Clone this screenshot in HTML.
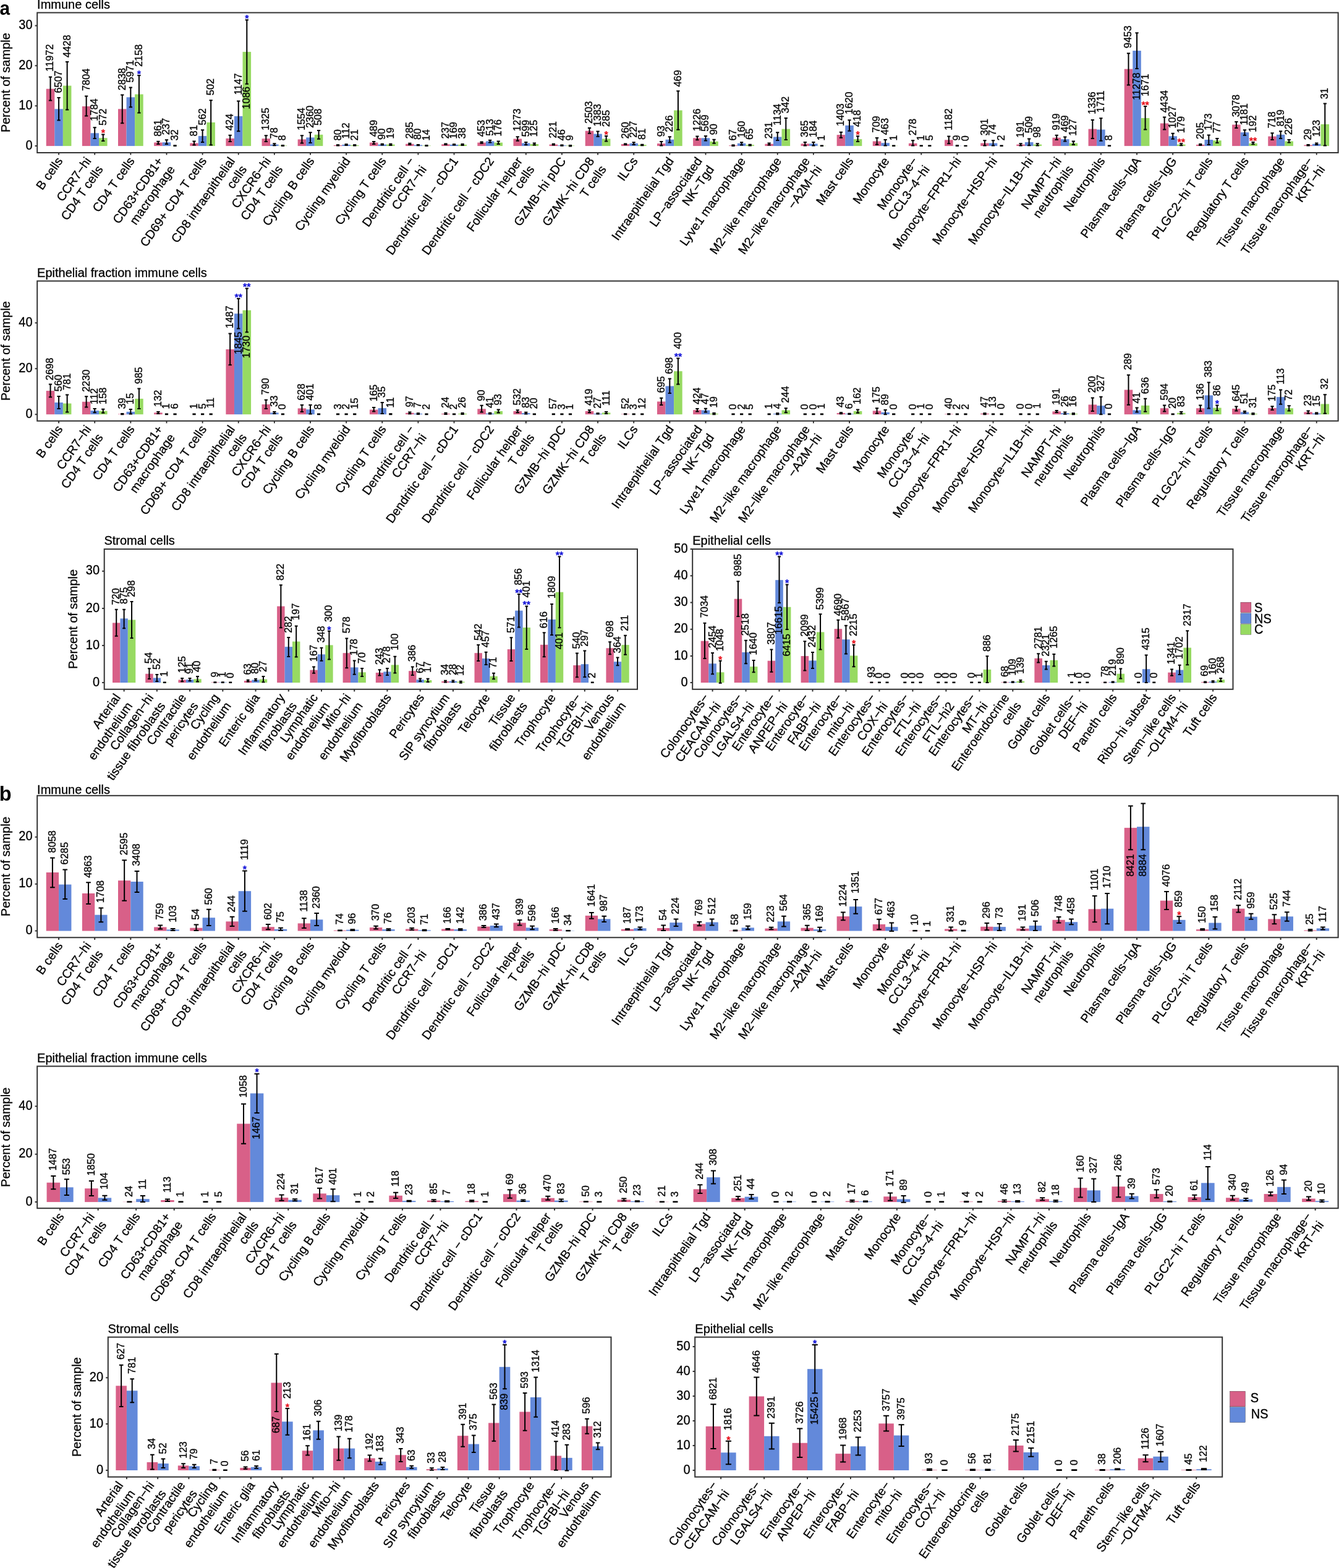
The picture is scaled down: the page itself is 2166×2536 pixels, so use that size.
<!DOCTYPE html>
<html><head><meta charset="utf-8"><title>Figure</title><style>html,body{margin:0;padding:0;background:#fff;}svg{display:block;}</style></head><body>
<svg width="2166" height="2536" viewBox="0 0 2166 2536" font-family="'Liberation Sans', Arial, Helvetica, sans-serif" fill="#000"><text transform="translate(-0.6 24.4) scale(0.93 1.0)" font-size="32" font-weight="bold">a</text>
<text x="-1.2" y="1295.2" font-size="32.5" font-weight="bold">b</text>
<text x="60.1" y="13.8" font-size="20" stroke="#000" stroke-width="0.3">Immune cells</text>
<g><rect x="74.73" y="143.7" width="13.56" height="92.4" fill="#D86088"/><rect x="88.3" y="176.3" width="13.56" height="59.8" fill="#6389DA"/><rect x="101.86" y="138.6" width="13.56" height="97.5" fill="#97DA62"/><rect x="132.87" y="172" width="13.56" height="64.1" fill="#D86088"/><rect x="146.43" y="215.3" width="13.56" height="20.8" fill="#6389DA"/><rect x="159.99" y="223.2" width="13.56" height="12.9" fill="#97DA62"/><rect x="191" y="176.3" width="13.56" height="59.8" fill="#D86088"/><rect x="204.56" y="157.3" width="13.56" height="78.8" fill="#6389DA"/><rect x="218.13" y="152.5" width="13.56" height="83.6" fill="#97DA62"/><rect x="249.13" y="230.5" width="13.56" height="5.6" fill="#D86088"/><rect x="262.7" y="230.2" width="13.56" height="5.9" fill="#6389DA"/><rect x="276.26" y="235.9" width="13.56" height="0.2" fill="#97DA62"/><rect x="307.26" y="231.52" width="13.56" height="4.58" fill="#D86088"/><rect x="320.83" y="219.93" width="13.56" height="16.17" fill="#6389DA"/><rect x="334.39" y="197.96" width="13.56" height="38.14" fill="#97DA62"/><rect x="365.4" y="223.9" width="13.56" height="12.2" fill="#D86088"/><rect x="378.96" y="187.9" width="13.56" height="48.2" fill="#6389DA"/><rect x="392.52" y="83.86" width="13.56" height="152.24" fill="#97DA62"/><rect x="423.53" y="224.2" width="13.56" height="11.9" fill="#D86088"/><rect x="437.09" y="233.66" width="13.56" height="2.44" fill="#6389DA"/><rect x="450.66" y="235.49" width="13.56" height="0.61" fill="#97DA62"/><rect x="481.66" y="225.42" width="13.56" height="10.68" fill="#D86088"/><rect x="495.23" y="222.37" width="13.56" height="13.73" fill="#6389DA"/><rect x="508.79" y="217.79" width="13.56" height="18.31" fill="#97DA62"/><rect x="539.79" y="234.88" width="13.56" height="1.22" fill="#D86088"/><rect x="553.36" y="233.96" width="13.56" height="2.14" fill="#6389DA"/><rect x="566.92" y="234.88" width="13.56" height="1.22" fill="#97DA62"/><rect x="597.93" y="230.61" width="13.56" height="5.49" fill="#D86088"/><rect x="611.49" y="233.66" width="13.56" height="2.44" fill="#6389DA"/><rect x="625.06" y="233.66" width="13.56" height="2.44" fill="#97DA62"/><rect x="656.06" y="232.74" width="13.56" height="3.36" fill="#D86088"/><rect x="669.62" y="234.57" width="13.56" height="1.53" fill="#6389DA"/><rect x="683.19" y="235.49" width="13.56" height="0.61" fill="#97DA62"/><rect x="714.19" y="233.35" width="13.56" height="2.75" fill="#D86088"/><rect x="727.76" y="233.96" width="13.56" height="2.14" fill="#6389DA"/><rect x="741.32" y="233.96" width="13.56" height="2.14" fill="#97DA62"/><rect x="772.32" y="230.61" width="13.56" height="5.49" fill="#D86088"/><rect x="785.89" y="228.47" width="13.56" height="7.63" fill="#6389DA"/><rect x="799.45" y="230.61" width="13.56" height="5.49" fill="#97DA62"/><rect x="830.46" y="224.51" width="13.56" height="11.59" fill="#D86088"/><rect x="844.02" y="231.52" width="13.56" height="4.58" fill="#6389DA"/><rect x="857.59" y="233.05" width="13.56" height="3.05" fill="#97DA62"/><rect x="888.59" y="233.66" width="13.56" height="2.44" fill="#D86088"/><rect x="902.15" y="235.18" width="13.56" height="0.92" fill="#6389DA"/><rect x="915.72" y="235.49" width="13.56" height="0.61" fill="#97DA62"/><rect x="946.72" y="211.69" width="13.56" height="24.41" fill="#D86088"/><rect x="960.29" y="216.57" width="13.56" height="19.53" fill="#6389DA"/><rect x="973.85" y="224.51" width="13.56" height="11.59" fill="#97DA62"/><rect x="1004.85" y="233.05" width="13.56" height="3.05" fill="#D86088"/><rect x="1018.42" y="231.83" width="13.56" height="4.27" fill="#6389DA"/><rect x="1031.98" y="234.27" width="13.56" height="1.83" fill="#97DA62"/><rect x="1062.99" y="232.13" width="13.56" height="3.97" fill="#D86088"/><rect x="1076.55" y="225.73" width="13.56" height="10.37" fill="#6389DA"/><rect x="1090.12" y="178.44" width="13.56" height="57.66" fill="#97DA62"/><rect x="1121.12" y="223.29" width="13.56" height="12.81" fill="#D86088"/><rect x="1134.68" y="223.29" width="13.56" height="12.81" fill="#6389DA"/><rect x="1148.25" y="228.78" width="13.56" height="7.32" fill="#97DA62"/><rect x="1179.25" y="235.18" width="13.56" height="0.92" fill="#D86088"/><rect x="1192.82" y="231.83" width="13.56" height="4.27" fill="#6389DA"/><rect x="1206.38" y="234.27" width="13.56" height="1.83" fill="#97DA62"/><rect x="1237.39" y="232.74" width="13.56" height="3.36" fill="#D86088"/><rect x="1250.95" y="221.46" width="13.56" height="14.64" fill="#6389DA"/><rect x="1264.51" y="208.64" width="13.56" height="27.46" fill="#97DA62"/><rect x="1295.52" y="232.44" width="13.56" height="3.66" fill="#D86088"/><rect x="1309.08" y="232.44" width="13.56" height="3.66" fill="#6389DA"/><rect x="1322.65" y="235.79" width="13.56" height="0.31" fill="#97DA62"/><rect x="1353.65" y="218.1" width="13.56" height="18" fill="#D86088"/><rect x="1367.21" y="202.85" width="13.56" height="33.25" fill="#6389DA"/><rect x="1380.78" y="225.12" width="13.56" height="10.98" fill="#97DA62"/><rect x="1411.78" y="228.47" width="13.56" height="7.63" fill="#D86088"/><rect x="1425.35" y="231.22" width="13.56" height="4.88" fill="#6389DA"/><rect x="1438.91" y="235.79" width="13.56" height="0.31" fill="#97DA62"/><rect x="1469.92" y="231.83" width="13.56" height="4.27" fill="#D86088"/><rect x="1528.05" y="226.34" width="13.56" height="9.76" fill="#D86088"/><rect x="1541.61" y="235.79" width="13.56" height="0.31" fill="#6389DA"/><rect x="1586.18" y="231.52" width="13.56" height="4.58" fill="#D86088"/><rect x="1599.74" y="231.52" width="13.56" height="4.58" fill="#6389DA"/><rect x="1644.31" y="233.66" width="13.56" height="2.44" fill="#D86088"/><rect x="1657.88" y="230" width="13.56" height="6.1" fill="#6389DA"/><rect x="1671.44" y="233.66" width="13.56" height="2.44" fill="#97DA62"/><rect x="1702.45" y="222.68" width="13.56" height="13.42" fill="#D86088"/><rect x="1716.01" y="225.12" width="13.56" height="10.98" fill="#6389DA"/><rect x="1729.57" y="231.52" width="13.56" height="4.58" fill="#97DA62"/><rect x="1760.58" y="208.64" width="13.56" height="27.46" fill="#D86088"/><rect x="1774.14" y="209.56" width="13.56" height="26.54" fill="#6389DA"/><rect x="1818.71" y="111.63" width="13.56" height="124.47" fill="#D86088"/><rect x="1832.28" y="82.03" width="13.56" height="154.07" fill="#6389DA"/><rect x="1845.84" y="190.95" width="13.56" height="45.15" fill="#97DA62"/><rect x="1876.84" y="199.49" width="13.56" height="36.61" fill="#D86088"/><rect x="1890.41" y="220.24" width="13.56" height="15.86" fill="#6389DA"/><rect x="1903.97" y="233.66" width="13.56" height="2.44" fill="#97DA62"/><rect x="1934.98" y="233.96" width="13.56" height="2.14" fill="#D86088"/><rect x="1948.54" y="226.03" width="13.56" height="10.07" fill="#6389DA"/><rect x="1962.1" y="227.25" width="13.56" height="8.85" fill="#97DA62"/><rect x="1993.11" y="201.63" width="13.56" height="34.47" fill="#D86088"/><rect x="2006.67" y="214.13" width="13.56" height="21.97" fill="#6389DA"/><rect x="2020.24" y="231.83" width="13.56" height="4.27" fill="#97DA62"/><rect x="2051.24" y="220.54" width="13.56" height="15.56" fill="#D86088"/><rect x="2064.81" y="217.79" width="13.56" height="18.31" fill="#6389DA"/><rect x="2078.37" y="228.47" width="13.56" height="7.63" fill="#97DA62"/><rect x="2109.37" y="234.57" width="13.56" height="1.53" fill="#D86088"/><rect x="2122.94" y="232.74" width="13.56" height="3.36" fill="#6389DA"/><rect x="2136.5" y="201.02" width="13.56" height="35.08" fill="#97DA62"/></g>
<path d="M81.52 124.6V162.4M78.89 124.6H84.14M78.89 162.4H84.14M95.08 158V194.4M92.46 158H97.7M92.46 194.4H97.7M108.64 100V177.5M106.02 100H111.27M106.02 177.5H111.27M139.65 155.6V187.6M137.03 155.6H142.27M137.03 187.6H142.27M153.21 206.3V224M150.59 206.3H155.83M150.59 224H155.83M166.78 217.5V228M164.15 217.5H169.4M164.15 228H169.4M197.78 153.4V199.2M195.16 153.4H200.4M195.16 199.2H200.4M211.34 141.5V173.2M208.72 141.5H213.97M208.72 173.2H213.97M224.91 122V182.5M222.29 122H227.53M222.29 182.5H227.53M255.91 228.8V233M253.29 228.8H258.54M253.29 233H258.54M269.48 226.3V233M266.86 226.3H272.1M266.86 233H272.1M283.04 235.2V236.1M280.42 235.2H285.66M280.42 236.1H285.66M314.05 228.47V234.57M311.42 228.47H316.67M311.42 234.57H316.67M327.61 210.17V230M324.99 210.17H330.23M324.99 230H330.23M341.17 162.27V234.57M338.55 162.27H343.8M338.55 234.57H343.8M372.18 218.71V229.08M369.56 218.71H374.8M369.56 229.08H374.8M385.74 163.49V212.3M383.12 163.49H388.36M383.12 212.3H388.36M399.31 32.3V135.73M396.68 32.3H401.93M396.68 135.73H401.93M430.31 219.32V229.08M427.69 219.32H432.93M427.69 229.08H432.93M443.88 232.13V235.18M441.25 232.13H446.5M441.25 235.18H446.5M457.44 234.88V236.1M454.82 234.88H460.06M454.82 236.1H460.06M488.44 219.32V231.52M485.82 219.32H491.07M485.82 231.52H491.07M502.01 214.13V230.91M499.39 214.13H504.63M499.39 230.91H504.63M515.57 211.08V224.81M512.95 211.08H518.19M512.95 224.81H518.19M546.58 234.27V235.49M543.95 234.27H549.2M543.95 235.49H549.2M560.14 233.35V234.88M557.52 233.35H562.76M557.52 234.88H562.76M573.7 234.27V235.49M571.08 234.27H576.33M571.08 235.49H576.33M604.71 229.08V233.05M602.09 229.08H607.33M602.09 233.05H607.33M618.27 232.74V234.57M615.65 232.74H620.9M615.65 234.57H620.9M631.84 232.74V234.88M629.22 232.74H634.46M629.22 234.88H634.46M662.84 231.83V233.96M660.22 231.83H665.46M660.22 233.96H665.46M676.41 233.96V235.18M673.78 233.96H679.03M673.78 235.18H679.03M689.97 234.88V236.1M687.35 234.88H692.59M687.35 236.1H692.59M720.97 232.44V233.96M718.35 232.44H723.6M718.35 233.96H723.6M734.54 233.35V234.57M731.92 233.35H737.16M731.92 234.57H737.16M748.1 233.05V234.88M745.48 233.05H750.72M745.48 234.88H750.72M779.11 229.39V231.83M776.48 229.39H781.73M776.48 231.83H781.73M792.67 226.64V230.61M790.05 226.64H795.29M790.05 230.61H795.29M806.23 228.47V233.05M803.61 228.47H808.86M803.61 233.05H808.86M837.24 221.15V227.86M834.62 221.15H839.86M834.62 227.86H839.86M850.8 230V234.27M848.18 230H853.43M848.18 234.27H853.43M864.37 231.52V234.57M861.75 231.52H866.99M861.75 234.57H866.99M895.37 232.74V234.57M892.75 232.74H897.99M892.75 234.57H897.99M908.94 234.57V235.79M906.31 234.57H911.56M906.31 235.79H911.56M922.5 234.88V236.41M919.88 234.88H925.12M919.88 236.41H925.12M953.5 207.12V215.66M950.88 207.12H956.13M950.88 215.66H956.13M967.07 212.61V220.85M964.45 212.61H969.69M964.45 220.85H969.69M980.63 219.93V228.47M978.01 219.93H983.25M978.01 228.47H983.25M1011.64 232.44V233.96M1009.01 232.44H1014.26M1009.01 233.96H1014.26M1025.2 230.3V233.96M1022.58 230.3H1027.82M1022.58 233.96H1027.82M1038.77 233.66V235.18M1036.14 233.66H1041.39M1036.14 235.18H1041.39M1069.77 229.08V235.49M1067.15 229.08H1072.39M1067.15 235.49H1072.39M1083.33 221.15V230.61M1080.71 221.15H1085.96M1080.71 230.61H1085.96M1096.9 147.32V209.86M1094.28 147.32H1099.52M1094.28 209.86H1099.52M1127.9 220.54V226.34M1125.28 220.54H1130.52M1125.28 226.34H1130.52M1141.47 219.93V227.56M1138.84 219.93H1144.09M1138.84 227.56H1144.09M1155.03 225.73V231.83M1152.41 225.73H1157.65M1152.41 231.83H1157.65M1186.03 234.57V236.1M1183.41 234.57H1188.66M1183.41 236.1H1188.66M1199.6 230.3V234.57M1196.98 230.3H1202.22M1196.98 234.57H1202.22M1213.16 233.66V235.49M1210.54 233.66H1215.79M1210.54 235.49H1215.79M1244.17 231.52V234.57M1241.55 231.52H1246.79M1241.55 234.57H1246.79M1257.73 214.13V226.95M1255.11 214.13H1260.35M1255.11 226.95H1260.35M1271.3 190.95V226.03M1268.67 190.95H1273.92M1268.67 226.03H1273.92M1302.3 230V235.49M1299.68 230H1304.92M1299.68 235.49H1304.92M1315.86 230V235.49M1313.24 230H1318.49M1313.24 235.49H1318.49M1329.43 235.49V236.1M1326.81 235.49H1332.05M1326.81 236.1H1332.05M1360.43 213.83V222.68M1357.81 213.83H1363.05M1357.81 222.68H1363.05M1374 194.3V211.69M1371.37 194.3H1376.62M1371.37 211.69H1376.62M1387.56 220.24V229.08M1384.94 220.24H1390.18M1384.94 229.08H1390.18M1418.57 222.98V233.66M1415.94 222.98H1421.19M1415.94 233.66H1421.19M1432.13 226.03V235.49M1429.51 226.03H1434.75M1429.51 235.49H1434.75M1445.69 235.49V236.1M1443.07 235.49H1448.32M1443.07 236.1H1448.32M1476.7 227.25V235.49M1474.08 227.25H1479.32M1474.08 235.49H1479.32M1490.26 235.49V236.1M1487.64 235.49H1492.88M1487.64 236.1H1492.88M1503.83 235.49V236.1M1501.2 235.49H1506.45M1501.2 236.1H1506.45M1534.83 220.54V232.13M1532.21 220.54H1537.45M1532.21 232.13H1537.45M1548.39 235.18V236.1M1545.77 235.18H1551.02M1545.77 236.1H1551.02M1561.96 235.79V236.1M1559.34 235.79H1564.58M1559.34 236.1H1564.58M1592.96 227.25V235.49M1590.34 227.25H1595.58M1590.34 235.49H1595.58M1606.53 227.25V235.49M1603.9 227.25H1609.15M1603.9 235.49H1609.15M1620.09 235.49V236.1M1617.47 235.49H1622.71M1617.47 236.1H1622.71M1651.1 232.13V235.49M1648.47 232.13H1653.72M1648.47 235.49H1653.72M1664.66 224.51V235.18M1662.04 224.51H1667.28M1662.04 235.18H1667.28M1678.22 232.13V235.49M1675.6 232.13H1680.85M1675.6 235.49H1680.85M1709.23 218.71V226.03M1706.61 218.71H1711.85M1706.61 226.03H1711.85M1722.79 221.46V228.47M1720.17 221.46H1725.41M1720.17 228.47H1725.41M1736.36 228.47V233.96M1733.73 228.47H1738.98M1733.73 233.96H1738.98M1767.36 194V223.9M1764.74 194H1769.98M1764.74 223.9H1769.98M1780.92 191.25V227.86M1778.3 191.25H1783.55M1778.3 227.86H1783.55M1794.49 235.49V236.1M1791.87 235.49H1797.11M1791.87 236.1H1797.11M1825.49 86.3V137.56M1822.87 86.3H1828.12M1822.87 137.56H1828.12M1839.06 53.35V111.02M1836.44 53.35H1841.68M1836.44 111.02H1841.68M1852.62 172.03V209.56M1850 172.03H1855.24M1850 209.56H1855.24M1883.63 189.42V209.56M1881 189.42H1886.25M1881 209.56H1886.25M1897.19 215.66V224.81M1894.57 215.66H1899.81M1894.57 224.81H1899.81M1910.75 232.13V235.18M1908.13 232.13H1913.38M1908.13 235.18H1913.38M1941.76 233.05V234.88M1939.14 233.05H1944.38M1939.14 234.88H1944.38M1955.32 218.41V233.96M1952.7 218.41H1957.94M1952.7 233.96H1957.94M1968.89 223.9V230.91M1966.26 223.9H1971.51M1966.26 230.91H1971.51M1999.89 197.05V207.12M1997.27 197.05H2002.51M1997.27 207.12H2002.51M2013.46 210.17V218.71M2010.83 210.17H2016.08M2010.83 218.71H2016.08M2027.02 230V233.35M2024.4 230H2029.64M2024.4 233.35H2029.64M2058.02 215.35V226.03M2055.4 215.35H2060.65M2055.4 226.03H2060.65M2071.59 212.3V223.9M2068.97 212.3H2074.21M2068.97 223.9H2074.21M2085.15 226.03V230.61M2082.53 226.03H2087.77M2082.53 230.61H2087.77M2116.16 233.96V235.49M2113.53 233.96H2118.78M2113.53 235.49H2118.78M2129.72 231.52V233.96M2127.1 231.52H2132.34M2127.1 233.96H2132.34M2143.28 167.46V235.49M2140.66 167.46H2145.91M2140.66 235.49H2145.91" stroke="#000" stroke-width="2" fill="none"/>
<g font-size="16.4" stroke="#000" stroke-width="0.3"><text transform="translate(80.62 115.8) rotate(-90)" dy="0.355em">11972</text><text transform="translate(94.18 150.5) rotate(-90)" dy="0.355em">6507</text><text transform="translate(107.74 92.9) rotate(-90)" dy="0.355em">4428</text><text transform="translate(138.75 147.1) rotate(-90)" dy="0.355em">7804</text><text transform="translate(152.31 195.8) rotate(-90)" dy="0.355em">1784</text><text transform="translate(165.88 203) rotate(-90)" dy="0.355em">572</text><text transform="translate(196.88 146.3) rotate(-90)" dy="0.355em">2838</text><text transform="translate(210.44 133.5) rotate(-90)" dy="0.355em">5971</text><text transform="translate(224.01 108.1) rotate(-90)" dy="0.355em">2158</text><text transform="translate(255.01 220.8) rotate(-90)" dy="0.355em">861</text><text transform="translate(268.58 218.3) rotate(-90)" dy="0.355em">237</text><text transform="translate(282.14 227.6) rotate(-90)" dy="0.355em">32</text><text transform="translate(313.15 220.43) rotate(-90)" dy="0.355em">81</text><text transform="translate(326.71 202.43) rotate(-90)" dy="0.355em">562</text><text transform="translate(340.27 154.23) rotate(-90)" dy="0.355em">502</text><text transform="translate(371.28 211.28) rotate(-90)" dy="0.355em">424</text><text transform="translate(384.84 153.62) rotate(-90)" dy="0.355em">1147</text><text transform="translate(398.41 176.5) rotate(-90)" dy="0.355em">1086</text><text transform="translate(429.41 210.67) rotate(-90)" dy="0.355em">1325</text><text transform="translate(442.98 224.4) rotate(-90)" dy="0.355em">78</text><text transform="translate(456.54 227.45) rotate(-90)" dy="0.355em">8</text><text transform="translate(487.54 210.67) rotate(-90)" dy="0.355em">1554</text><text transform="translate(501.11 207.01) rotate(-90)" dy="0.355em">2360</text><text transform="translate(514.67 203.04) rotate(-90)" dy="0.355em">508</text><text transform="translate(545.68 227.45) rotate(-90)" dy="0.355em">80</text><text transform="translate(559.24 224.4) rotate(-90)" dy="0.355em">112</text><text transform="translate(572.8 227.45) rotate(-90)" dy="0.355em">21</text><text transform="translate(603.81 221.35) rotate(-90)" dy="0.355em">489</text><text transform="translate(617.37 225.92) rotate(-90)" dy="0.355em">90</text><text transform="translate(630.94 224.4) rotate(-90)" dy="0.355em">19</text><text transform="translate(661.94 224.4) rotate(-90)" dy="0.355em">285</text><text transform="translate(675.51 225.92) rotate(-90)" dy="0.355em">80</text><text transform="translate(689.07 227.45) rotate(-90)" dy="0.355em">14</text><text transform="translate(720.07 224.4) rotate(-90)" dy="0.355em">237</text><text transform="translate(733.64 224.4) rotate(-90)" dy="0.355em">169</text><text transform="translate(747.2 224.4) rotate(-90)" dy="0.355em">38</text><text transform="translate(778.21 221.35) rotate(-90)" dy="0.355em">453</text><text transform="translate(791.77 219.82) rotate(-90)" dy="0.355em">513</text><text transform="translate(805.33 220.43) rotate(-90)" dy="0.355em">176</text><text transform="translate(836.34 212.19) rotate(-90)" dy="0.355em">1273</text><text transform="translate(849.9 221.35) rotate(-90)" dy="0.355em">599</text><text transform="translate(863.47 221.35) rotate(-90)" dy="0.355em">125</text><text transform="translate(894.47 223.48) rotate(-90)" dy="0.355em">221</text><text transform="translate(908.04 227.45) rotate(-90)" dy="0.355em">46</text><text transform="translate(921.6 227.45) rotate(-90)" dy="0.355em">9</text><text transform="translate(952.6 199.99) rotate(-90)" dy="0.355em">2503</text><text transform="translate(966.17 204.57) rotate(-90)" dy="0.355em">1383</text><text transform="translate(979.73 205.18) rotate(-90)" dy="0.355em">285</text><text transform="translate(1010.74 224.4) rotate(-90)" dy="0.355em">260</text><text transform="translate(1024.3 222.87) rotate(-90)" dy="0.355em">227</text><text transform="translate(1037.87 225.92) rotate(-90)" dy="0.355em">81</text><text transform="translate(1068.87 221.35) rotate(-90)" dy="0.355em">93</text><text transform="translate(1082.43 213.72) rotate(-90)" dy="0.355em">226</text><text transform="translate(1096 140.5) rotate(-90)" dy="0.355em">469</text><text transform="translate(1127 212.19) rotate(-90)" dy="0.355em">1226</text><text transform="translate(1140.57 212.8) rotate(-90)" dy="0.355em">569</text><text transform="translate(1154.13 218.29) rotate(-90)" dy="0.355em">90</text><text transform="translate(1185.13 227.45) rotate(-90)" dy="0.355em">67</text><text transform="translate(1198.7 222.87) rotate(-90)" dy="0.355em">160</text><text transform="translate(1212.26 225.92) rotate(-90)" dy="0.355em">65</text><text transform="translate(1243.27 224.4) rotate(-90)" dy="0.355em">231</text><text transform="translate(1256.83 203.04) rotate(-90)" dy="0.355em">1134</text><text transform="translate(1270.4 183.21) rotate(-90)" dy="0.355em">342</text><text transform="translate(1301.4 221.96) rotate(-90)" dy="0.355em">365</text><text transform="translate(1314.96 221.96) rotate(-90)" dy="0.355em">184</text><text transform="translate(1328.53 227.45) rotate(-90)" dy="0.355em">1</text><text transform="translate(1359.53 203.96) rotate(-90)" dy="0.355em">1403</text><text transform="translate(1373.1 184.74) rotate(-90)" dy="0.355em">1620</text><text transform="translate(1386.66 205.18) rotate(-90)" dy="0.355em">418</text><text transform="translate(1417.67 214.63) rotate(-90)" dy="0.355em">709</text><text transform="translate(1431.23 218.29) rotate(-90)" dy="0.355em">463</text><text transform="translate(1444.79 227.45) rotate(-90)" dy="0.355em">1</text><text transform="translate(1475.8 219.21) rotate(-90)" dy="0.355em">278</text><text transform="translate(1489.36 227.45) rotate(-90)" dy="0.355em">1</text><text transform="translate(1502.93 227.45) rotate(-90)" dy="0.355em">5</text><text transform="translate(1533.93 210.67) rotate(-90)" dy="0.355em">1182</text><text transform="translate(1547.49 227.45) rotate(-90)" dy="0.355em">9</text><text transform="translate(1561.06 228.36) rotate(-90)" dy="0.355em">0</text><text transform="translate(1592.06 219.21) rotate(-90)" dy="0.355em">301</text><text transform="translate(1605.63 219.21) rotate(-90)" dy="0.355em">74</text><text transform="translate(1619.19 227.45) rotate(-90)" dy="0.355em">2</text><text transform="translate(1650.2 222.87) rotate(-90)" dy="0.355em">191</text><text transform="translate(1663.76 215.24) rotate(-90)" dy="0.355em">509</text><text transform="translate(1677.32 222.87) rotate(-90)" dy="0.355em">98</text><text transform="translate(1708.33 210.67) rotate(-90)" dy="0.355em">919</text><text transform="translate(1721.89 213.72) rotate(-90)" dy="0.355em">469</text><text transform="translate(1735.46 219.82) rotate(-90)" dy="0.355em">127</text><text transform="translate(1766.46 184.74) rotate(-90)" dy="0.355em">1336</text><text transform="translate(1780.02 181.68) rotate(-90)" dy="0.355em">1711</text><text transform="translate(1793.59 227.45) rotate(-90)" dy="0.355em">8</text><text transform="translate(1824.59 77.96) rotate(-90)" dy="0.355em">9453</text><text transform="translate(1838.16 161.85) rotate(-90)" dy="0.355em">11278</text><text transform="translate(1851.72 155.75) rotate(-90)" dy="0.355em">1671</text><text transform="translate(1882.73 182.29) rotate(-90)" dy="0.355em">4434</text><text transform="translate(1896.29 207.62) rotate(-90)" dy="0.355em">1027</text><text transform="translate(1909.85 215.24) rotate(-90)" dy="0.355em">179</text><text transform="translate(1940.86 225.31) rotate(-90)" dy="0.355em">205</text><text transform="translate(1954.42 210.67) rotate(-90)" dy="0.355em">173</text><text transform="translate(1967.99 215.24) rotate(-90)" dy="0.355em">77</text><text transform="translate(1998.99 189.31) rotate(-90)" dy="0.355em">3078</text><text transform="translate(2012.56 202.43) rotate(-90)" dy="0.355em">1181</text><text transform="translate(2026.12 213.72) rotate(-90)" dy="0.355em">192</text><text transform="translate(2057.12 207.62) rotate(-90)" dy="0.355em">718</text><text transform="translate(2070.69 204.57) rotate(-90)" dy="0.355em">819</text><text transform="translate(2084.25 218.29) rotate(-90)" dy="0.355em">226</text><text transform="translate(2115.26 226.53) rotate(-90)" dy="0.355em">29</text><text transform="translate(2128.82 221.35) rotate(-90)" dy="0.355em">123</text><text transform="translate(2142.38 160.33) rotate(-90)" dy="0.355em">31</text></g>
<g font-size="16" font-weight="bold" text-anchor="middle"><text x="166.78" y="221.3" fill="#E8101A" stroke="#E8101A" stroke-width="0.2">*</text><text x="224.91" y="125.8" fill="#1010D8" stroke="#1010D8" stroke-width="0.2">*</text><text x="399.31" y="36.1" fill="#1010D8" stroke="#1010D8" stroke-width="0.2">*</text><text x="980.63" y="223.73" fill="#E8101A" stroke="#E8101A" stroke-width="0.2">*</text><text x="1387.56" y="224.04" fill="#E8101A" stroke="#E8101A" stroke-width="0.2">*</text><text x="1852.62" y="175.83" fill="#E8101A" stroke="#E8101A" stroke-width="0.2">**</text><text x="1910.75" y="235.93" fill="#E8101A" stroke="#E8101A" stroke-width="0.2">**</text><text x="2027.02" y="233.8" fill="#E8101A" stroke="#E8101A" stroke-width="0.2">**</text></g>
<rect x="60.2" y="20.5" width="2104.4" height="226.5" fill="none" stroke="#333333" stroke-width="2"/>
<path d="M56.6 236.1H60.2M56.6 171.2H60.2M56.6 106.3H60.2M56.6 41.4H60.2M95.08 247V250.6M153.21 247V250.6M211.34 247V250.6M269.48 247V250.6M327.61 247V250.6M385.74 247V250.6M443.88 247V250.6M502.01 247V250.6M560.14 247V250.6M618.27 247V250.6M676.41 247V250.6M734.54 247V250.6M792.67 247V250.6M850.8 247V250.6M908.94 247V250.6M967.07 247V250.6M1025.2 247V250.6M1083.33 247V250.6M1141.47 247V250.6M1199.6 247V250.6M1257.73 247V250.6M1315.86 247V250.6M1374 247V250.6M1432.13 247V250.6M1490.26 247V250.6M1548.39 247V250.6M1606.53 247V250.6M1664.66 247V250.6M1722.79 247V250.6M1780.92 247V250.6M1839.06 247V250.6M1897.19 247V250.6M1955.32 247V250.6M2013.46 247V250.6M2071.59 247V250.6M2129.72 247V250.6" stroke="#333333" stroke-width="2" fill="none"/>
<g font-size="20" text-anchor="end" stroke="#000" stroke-width="0.3"><text transform="translate(52.5 241.7) scale(1 1.08)">0</text><text transform="translate(52.5 176.8) scale(1 1.08)">10</text><text transform="translate(52.5 111.9) scale(1 1.08)">20</text><text transform="translate(52.5 47) scale(1 1.08)">30</text></g>
<text transform="translate(16.4 133.75) rotate(-90)" text-anchor="middle" font-size="20" stroke="#000" stroke-width="0.3">Percent of sample</text>
<g font-size="20" text-anchor="end" stroke="#000" stroke-width="0.3"><text transform="translate(90.48 252) rotate(-55)"><tspan x="0" y="14.5">B cells</tspan></text><text transform="translate(136.41 252) rotate(-55)"><tspan x="0" y="14.5">CCR7−hi</tspan><tspan x="0" y="38">CD4 T cells</tspan></text><text transform="translate(206.74 252) rotate(-55)"><tspan x="0" y="14.5">CD4 T cells</tspan></text><text transform="translate(252.68 252) rotate(-55)"><tspan x="0" y="14.5">CD63+CD81+</tspan><tspan x="0" y="38">macrophage</tspan></text><text transform="translate(323.01 252) rotate(-55)"><tspan x="0" y="14.5">CD69+ CD4 T cells</tspan></text><text transform="translate(368.94 252) rotate(-55)"><tspan x="0" y="14.5">CD8 intraepithelial</tspan><tspan x="0" y="38">cells</tspan></text><text transform="translate(427.08 252) rotate(-55)"><tspan x="0" y="14.5">CXCR6−hi</tspan><tspan x="0" y="38">CD4 T cells</tspan></text><text transform="translate(497.41 252) rotate(-55)"><tspan x="0" y="14.5">Cycling B cells</tspan></text><text transform="translate(555.54 252) rotate(-55)"><tspan x="0" y="14.5">Cycling myeloid</tspan></text><text transform="translate(613.67 252) rotate(-55)"><tspan x="0" y="14.5">Cycling T cells</tspan></text><text transform="translate(659.61 252) rotate(-55)"><tspan x="0" y="14.5">Dendritic cell −</tspan><tspan x="0" y="38">CCR7−hi</tspan></text><text transform="translate(729.94 252) rotate(-55)"><tspan x="0" y="14.5">Dendritic cell − cDC1</tspan></text><text transform="translate(788.07 252) rotate(-55)"><tspan x="0" y="14.5">Dendritic cell − cDC2</tspan></text><text transform="translate(834 252) rotate(-55)"><tspan x="0" y="14.5">Follicular helper</tspan><tspan x="0" y="38">T cells</tspan></text><text transform="translate(904.34 252) rotate(-55)"><tspan x="0" y="14.5">GZMB−hi pDC</tspan></text><text transform="translate(950.27 252) rotate(-55)"><tspan x="0" y="14.5">GZMK−hi CD8</tspan><tspan x="0" y="38">T cells</tspan></text><text transform="translate(1020.6 252) rotate(-55)"><tspan x="0" y="14.5">ILCs</tspan></text><text transform="translate(1078.73 252) rotate(-55)"><tspan x="0" y="14.5">Intraepithelial Tgd</tspan></text><text transform="translate(1124.67 252) rotate(-55)"><tspan x="0" y="14.5">LP−associated</tspan><tspan x="0" y="38">NK−Tgd</tspan></text><text transform="translate(1195 252) rotate(-55)"><tspan x="0" y="14.5">Lyve1 macrophage</tspan></text><text transform="translate(1253.13 252) rotate(-55)"><tspan x="0" y="14.5">M2−like macrophage</tspan></text><text transform="translate(1299.06 252) rotate(-55)"><tspan x="0" y="14.5">M2−like macrophage</tspan><tspan x="0" y="38">−A2M−hi</tspan></text><text transform="translate(1369.4 252) rotate(-55)"><tspan x="0" y="14.5">Mast cells</tspan></text><text transform="translate(1427.53 252) rotate(-55)"><tspan x="0" y="14.5">Monocyte</tspan></text><text transform="translate(1473.46 252) rotate(-55)"><tspan x="0" y="14.5">Monocyte−</tspan><tspan x="0" y="38">CCL3−4−hi</tspan></text><text transform="translate(1543.79 252) rotate(-55)"><tspan x="0" y="14.5">Monocyte−FPR1−hi</tspan></text><text transform="translate(1601.93 252) rotate(-55)"><tspan x="0" y="14.5">Monocyte−HSP−hi</tspan></text><text transform="translate(1660.06 252) rotate(-55)"><tspan x="0" y="14.5">Monocyte−IL1B−hi</tspan></text><text transform="translate(1705.99 252) rotate(-55)"><tspan x="0" y="14.5">NAMPT−hi</tspan><tspan x="0" y="38">neutrophils</tspan></text><text transform="translate(1776.32 252) rotate(-55)"><tspan x="0" y="14.5">Neutrophils</tspan></text><text transform="translate(1834.46 252) rotate(-55)"><tspan x="0" y="14.5">Plasma cells−IgA</tspan></text><text transform="translate(1892.59 252) rotate(-55)"><tspan x="0" y="14.5">Plasma cells−IgG</tspan></text><text transform="translate(1950.72 252) rotate(-55)"><tspan x="0" y="14.5">PLGC2−hi T cells</tspan></text><text transform="translate(2008.86 252) rotate(-55)"><tspan x="0" y="14.5">Regulatory T cells</tspan></text><text transform="translate(2066.99 252) rotate(-55)"><tspan x="0" y="14.5">Tissue macrophage</tspan></text><text transform="translate(2112.92 252) rotate(-55)"><tspan x="0" y="14.5">Tissue macrophage−</tspan><tspan x="0" y="38">KRT−hi</tspan></text></g>
<text x="60.1" y="447.8" font-size="20" stroke="#000" stroke-width="0.3">Epithelial fraction immune cells</text>
<g><rect x="74.73" y="632.06" width="13.56" height="38.14" fill="#D86088"/><rect x="88.3" y="650.98" width="13.56" height="19.22" fill="#6389DA"/><rect x="101.86" y="652.51" width="13.56" height="17.69" fill="#97DA62"/><rect x="132.87" y="649.76" width="13.56" height="20.44" fill="#D86088"/><rect x="146.43" y="664.1" width="13.56" height="6.1" fill="#6389DA"/><rect x="159.99" y="664.71" width="13.56" height="5.49" fill="#97DA62"/><rect x="191" y="669.59" width="13.56" height="0.61" fill="#D86088"/><rect x="204.56" y="665.93" width="13.56" height="4.27" fill="#6389DA"/><rect x="218.13" y="644.88" width="13.56" height="25.32" fill="#97DA62"/><rect x="249.13" y="667.45" width="13.56" height="2.75" fill="#D86088"/><rect x="365.4" y="564.95" width="13.56" height="105.25" fill="#D86088"/><rect x="378.96" y="507.28" width="13.56" height="162.92" fill="#6389DA"/><rect x="392.52" y="501.79" width="13.56" height="168.41" fill="#97DA62"/><rect x="423.53" y="654.03" width="13.56" height="16.17" fill="#D86088"/><rect x="437.09" y="667.45" width="13.56" height="2.75" fill="#6389DA"/><rect x="481.66" y="660.44" width="13.56" height="9.76" fill="#D86088"/><rect x="495.23" y="662.27" width="13.56" height="7.93" fill="#6389DA"/><rect x="597.93" y="662.57" width="13.56" height="7.63" fill="#D86088"/><rect x="611.49" y="660.13" width="13.56" height="10.07" fill="#6389DA"/><rect x="656.06" y="667.76" width="13.56" height="2.44" fill="#D86088"/><rect x="669.62" y="668.98" width="13.56" height="1.22" fill="#6389DA"/><rect x="714.19" y="668.98" width="13.56" height="1.22" fill="#D86088"/><rect x="741.32" y="668.98" width="13.56" height="1.22" fill="#97DA62"/><rect x="772.32" y="661.35" width="13.56" height="8.85" fill="#D86088"/><rect x="785.89" y="668.67" width="13.56" height="1.53" fill="#6389DA"/><rect x="799.45" y="665.01" width="13.56" height="5.19" fill="#97DA62"/><rect x="830.46" y="665.01" width="13.56" height="5.19" fill="#D86088"/><rect x="844.02" y="668.06" width="13.56" height="2.14" fill="#6389DA"/><rect x="946.72" y="665.01" width="13.56" height="5.19" fill="#D86088"/><rect x="960.29" y="668.98" width="13.56" height="1.22" fill="#6389DA"/><rect x="973.85" y="667.45" width="13.56" height="2.75" fill="#97DA62"/><rect x="1004.85" y="669.59" width="13.56" height="0.61" fill="#D86088"/><rect x="1062.99" y="649.45" width="13.56" height="20.75" fill="#D86088"/><rect x="1076.55" y="624.44" width="13.56" height="45.76" fill="#6389DA"/><rect x="1090.12" y="600.34" width="13.56" height="69.86" fill="#97DA62"/><rect x="1121.12" y="663.18" width="13.56" height="7.02" fill="#D86088"/><rect x="1134.68" y="663.49" width="13.56" height="6.71" fill="#6389DA"/><rect x="1148.25" y="668.98" width="13.56" height="1.22" fill="#97DA62"/><rect x="1250.95" y="668.98" width="13.56" height="1.22" fill="#6389DA"/><rect x="1264.51" y="663.49" width="13.56" height="6.71" fill="#97DA62"/><rect x="1353.65" y="668.06" width="13.56" height="2.14" fill="#D86088"/><rect x="1367.21" y="669.28" width="13.56" height="0.92" fill="#6389DA"/><rect x="1380.78" y="665.01" width="13.56" height="5.19" fill="#97DA62"/><rect x="1411.78" y="664.4" width="13.56" height="5.8" fill="#D86088"/><rect x="1425.35" y="666.84" width="13.56" height="3.36" fill="#6389DA"/><rect x="1528.05" y="669.59" width="13.56" height="0.61" fill="#D86088"/><rect x="1586.18" y="668.83" width="13.56" height="1.37" fill="#D86088"/><rect x="1702.45" y="665.41" width="13.56" height="4.79" fill="#D86088"/><rect x="1716.01" y="668.15" width="13.56" height="2.05" fill="#6389DA"/><rect x="1729.57" y="669.17" width="13.56" height="1.03" fill="#97DA62"/><rect x="1760.58" y="654.45" width="13.56" height="15.75" fill="#D86088"/><rect x="1774.14" y="656.16" width="13.56" height="14.04" fill="#6389DA"/><rect x="1818.71" y="630.48" width="13.56" height="39.72" fill="#D86088"/><rect x="1832.28" y="663.35" width="13.56" height="6.85" fill="#6389DA"/><rect x="1845.84" y="655.82" width="13.56" height="14.38" fill="#97DA62"/><rect x="1876.84" y="660.27" width="13.56" height="9.93" fill="#D86088"/><rect x="1903.97" y="667.8" width="13.56" height="2.4" fill="#97DA62"/><rect x="1934.98" y="660.27" width="13.56" height="9.93" fill="#D86088"/><rect x="1948.54" y="639.39" width="13.56" height="30.81" fill="#6389DA"/><rect x="1962.1" y="659.59" width="13.56" height="10.61" fill="#97DA62"/><rect x="1993.11" y="660.96" width="13.56" height="9.24" fill="#D86088"/><rect x="2006.67" y="666.43" width="13.56" height="3.77" fill="#6389DA"/><rect x="2020.24" y="669.17" width="13.56" height="1.03" fill="#97DA62"/><rect x="2051.24" y="659.93" width="13.56" height="10.27" fill="#D86088"/><rect x="2064.81" y="642.13" width="13.56" height="28.07" fill="#6389DA"/><rect x="2078.37" y="660.27" width="13.56" height="9.93" fill="#97DA62"/><rect x="2109.37" y="666.43" width="13.56" height="3.77" fill="#D86088"/><rect x="2122.94" y="668.49" width="13.56" height="1.71" fill="#6389DA"/><rect x="2136.5" y="653.42" width="13.56" height="16.78" fill="#97DA62"/></g>
<path d="M81.52 621.39V642.13M78.89 621.39H84.14M78.89 642.13H84.14M95.08 640.91V661.05M92.46 640.91H97.7M92.46 661.05H97.7M108.64 638.47V666.54M106.02 638.47H111.27M106.02 666.54H111.27M139.65 641.22V658.61M137.03 641.22H142.27M137.03 658.61H142.27M153.21 661.05V667.15M150.59 661.05H155.83M150.59 667.15H155.83M166.78 661.66V667.76M164.15 661.66H169.4M164.15 667.76H169.4M197.78 668.98V670.2M195.16 668.98H200.4M195.16 670.2H200.4M211.34 661.96V669.59M208.72 661.96H213.97M208.72 669.59H213.97M224.91 628.4V661.05M222.29 628.4H227.53M222.29 661.05H227.53M255.91 665.93V668.98M253.29 665.93H258.54M253.29 668.98H258.54M269.48 669.59V670.2M266.86 669.59H272.1M266.86 670.2H272.1M283.04 669.59V670.2M280.42 669.59H285.66M280.42 670.2H285.66M314.05 669.59V670.2M311.42 669.59H316.67M311.42 670.2H316.67M327.61 669.59V670.2M324.99 669.59H330.23M324.99 670.2H330.23M341.17 669.59V670.2M338.55 669.59H343.8M338.55 670.2H343.8M372.18 539.62V590.27M369.56 539.62H374.8M369.56 590.27H374.8M385.74 482.88V531.39M383.12 482.88H388.36M383.12 531.39H388.36M399.31 466.4V537.18M396.68 466.4H401.93M396.68 537.18H401.93M430.31 646.71V661.05M427.69 646.71H432.93M427.69 661.05H432.93M443.88 665.93V668.98M441.25 665.93H446.5M441.25 668.98H446.5M457.44 669.59V670.2M454.82 669.59H460.06M454.82 670.2H460.06M488.44 654.95V665.93M485.82 654.95H491.07M485.82 665.93H491.07M502.01 654.95V669.59M499.39 654.95H504.63M499.39 669.59H504.63M515.57 669.59V670.2M512.95 669.59H518.19M512.95 670.2H518.19M546.58 669.59V670.2M543.95 669.59H549.2M543.95 670.2H549.2M560.14 669.59V670.2M557.52 669.59H562.76M557.52 670.2H562.76M573.7 669.59V670.2M571.08 669.59H576.33M571.08 670.2H576.33M604.71 658.91V665.62M602.09 658.91H607.33M602.09 665.62H607.33M618.27 650.98V668.98M615.65 650.98H620.9M615.65 668.98H620.9M631.84 669.28V670.2M629.22 669.28H634.46M629.22 670.2H634.46M662.84 666.54V669.28M660.22 666.54H665.46M660.22 669.28H665.46M676.41 668.37V669.89M673.78 668.37H679.03M673.78 669.89H679.03M689.97 669.59V670.2M687.35 669.59H692.59M687.35 670.2H692.59M720.97 667.76V669.89M718.35 667.76H723.6M718.35 669.89H723.6M734.54 669.59V670.2M731.92 669.59H737.16M731.92 670.2H737.16M748.1 668.06V669.89M745.48 668.06H750.72M745.48 669.89H750.72M779.11 655.86V666.54M776.48 655.86H781.73M776.48 666.54H781.73M792.67 667.76V669.59M790.05 667.76H795.29M790.05 669.59H795.29M806.23 662.57V667.45M803.61 662.57H808.86M803.61 667.45H808.86M837.24 663.18V667.15M834.62 663.18H839.86M834.62 667.15H839.86M850.8 666.84V669.59M848.18 666.84H853.43M848.18 669.59H853.43M864.37 669.59V670.2M861.75 669.59H866.99M861.75 670.2H866.99M895.37 669.59V670.2M892.75 669.59H897.99M892.75 670.2H897.99M908.94 669.59V670.2M906.31 669.59H911.56M906.31 670.2H911.56M922.5 669.59V670.2M919.88 669.59H925.12M919.88 670.2H925.12M953.5 663.18V667.15M950.88 663.18H956.13M950.88 667.15H956.13M967.07 668.37V669.59M964.45 668.37H969.69M964.45 669.59H969.69M980.63 665.93V668.98M978.01 665.93H983.25M978.01 668.98H983.25M1011.64 669.28V670.2M1009.01 669.28H1014.26M1009.01 670.2H1014.26M1025.2 669.59V670.2M1022.58 669.59H1027.82M1022.58 670.2H1027.82M1038.77 669.59V670.2M1036.14 669.59H1041.39M1036.14 670.2H1041.39M1069.77 643.66V654.95M1067.15 643.66H1072.39M1067.15 654.95H1072.39M1083.33 612.54V636.03M1080.71 612.54H1085.96M1080.71 636.03H1085.96M1096.9 579.59V621.39M1094.28 579.59H1099.52M1094.28 621.39H1099.52M1127.9 661.05V665.62M1125.28 661.05H1130.52M1125.28 665.62H1130.52M1141.47 660.74V666.54M1138.84 660.74H1144.09M1138.84 666.54H1144.09M1155.03 668.06V670.2M1152.41 668.06H1157.65M1152.41 670.2H1157.65M1186.03 669.59V670.2M1183.41 669.59H1188.66M1183.41 670.2H1188.66M1199.6 669.59V670.2M1196.98 669.59H1202.22M1196.98 670.2H1202.22M1213.16 669.59V670.2M1210.54 669.59H1215.79M1210.54 670.2H1215.79M1244.17 669.59V670.2M1241.55 669.59H1246.79M1241.55 670.2H1246.79M1257.73 668.37V670.2M1255.11 668.37H1260.35M1255.11 670.2H1260.35M1271.3 660.13V667.15M1268.67 660.13H1273.92M1268.67 667.15H1273.92M1302.3 669.59V670.2M1299.68 669.59H1304.92M1299.68 670.2H1304.92M1315.86 669.59V670.2M1313.24 669.59H1318.49M1313.24 670.2H1318.49M1329.43 669.59V670.2M1326.81 669.59H1332.05M1326.81 670.2H1332.05M1360.43 667.15V669.28M1357.81 667.15H1363.05M1357.81 669.28H1363.05M1374 668.67V669.89M1371.37 668.67H1376.62M1371.37 669.89H1376.62M1387.56 662.57V667.76M1384.94 662.57H1390.18M1384.94 667.76H1390.18M1418.57 660.13V668.67M1415.94 660.13H1421.19M1415.94 668.67H1421.19M1432.13 662.88V670.2M1429.51 662.88H1434.75M1429.51 670.2H1434.75M1445.69 669.59V670.2M1443.07 669.59H1448.32M1443.07 670.2H1448.32M1476.7 669.59V670.2M1474.08 669.59H1479.32M1474.08 670.2H1479.32M1490.26 669.59V670.2M1487.64 669.59H1492.88M1487.64 670.2H1492.88M1503.83 669.59V670.2M1501.2 669.59H1506.45M1501.2 670.2H1506.45M1534.83 669.28V670.2M1532.21 669.28H1537.45M1532.21 670.2H1537.45M1548.39 669.59V670.2M1545.77 669.59H1551.02M1545.77 670.2H1551.02M1561.96 669.59V670.2M1559.34 669.59H1564.58M1559.34 670.2H1564.58M1592.96 668.15V670.2M1590.34 668.15H1595.58M1590.34 670.2H1595.58M1606.53 669.52V670.2M1603.9 669.52H1609.15M1603.9 670.2H1609.15M1620.09 669.52V670.2M1617.47 669.52H1622.71M1617.47 670.2H1622.71M1651.1 669.52V670.2M1648.47 669.52H1653.72M1648.47 670.2H1653.72M1664.66 669.52V670.2M1662.04 669.52H1667.28M1662.04 670.2H1667.28M1678.22 669.52V670.2M1675.6 669.52H1680.85M1675.6 670.2H1680.85M1709.23 664.04V667.12M1706.61 664.04H1711.85M1706.61 667.12H1711.85M1722.79 666.43V669.86M1720.17 666.43H1725.41M1720.17 669.86H1725.41M1736.36 668.15V670.2M1733.73 668.15H1738.98M1733.73 670.2H1738.98M1767.36 643.49V665.06M1764.74 643.49H1769.98M1764.74 665.06H1769.98M1780.92 641.78V670.2M1778.3 641.78H1783.55M1778.3 670.2H1783.55M1794.49 669.52V670.2M1791.87 669.52H1797.11M1791.87 670.2H1797.11M1825.49 606.52V654.79M1822.87 606.52H1828.12M1822.87 654.79H1828.12M1839.06 659.59V666.43M1836.44 659.59H1841.68M1836.44 666.43H1841.68M1852.62 644.86V665.75M1850 644.86H1855.24M1850 665.75H1855.24M1883.63 655.48V665.41M1881 655.48H1886.25M1881 665.41H1886.25M1897.19 669.52V670.2M1894.57 669.52H1899.81M1894.57 670.2H1899.81M1910.75 666.09V669.17M1908.13 666.09H1913.38M1908.13 669.17H1913.38M1941.76 655.48V665.06M1939.14 655.48H1944.38M1939.14 665.06H1944.38M1955.32 618.5V660.61M1952.7 618.5H1957.94M1952.7 660.61H1957.94M1968.89 655.48V664.04M1966.26 655.48H1971.51M1966.26 664.04H1971.51M1999.89 657.53V664.38M1997.27 657.53H2002.51M1997.27 664.38H2002.51M2013.46 665.06V667.8M2010.83 665.06H2016.08M2010.83 667.8H2016.08M2027.02 668.15V670.2M2024.4 668.15H2029.64M2024.4 670.2H2029.64M2058.02 657.19V663.01M2055.4 657.19H2060.65M2055.4 663.01H2060.65M2071.59 630.48V653.77M2068.97 630.48H2074.21M2068.97 653.77H2074.21M2085.15 656.16V664.38M2082.53 656.16H2087.77M2082.53 664.38H2087.77M2116.16 664.38V668.83M2113.53 664.38H2118.78M2113.53 668.83H2118.78M2129.72 667.46V669.52M2127.1 667.46H2132.34M2127.1 669.52H2132.34M2143.28 638.36V668.83M2140.66 638.36H2145.91M2140.66 668.83H2145.91" stroke="#000" stroke-width="2" fill="none"/>
<g font-size="16.4" stroke="#000" stroke-width="0.3"><text transform="translate(80.62 615.17) rotate(-90)" dy="0.355em">2698</text><text transform="translate(94.18 633.17) rotate(-90)" dy="0.355em">560</text><text transform="translate(107.74 631.04) rotate(-90)" dy="0.355em">781</text><text transform="translate(138.75 634.09) rotate(-90)" dy="0.355em">2230</text><text transform="translate(152.31 653.92) rotate(-90)" dy="0.355em">112</text><text transform="translate(165.88 653.92) rotate(-90)" dy="0.355em">158</text><text transform="translate(196.88 661.55) rotate(-90)" dy="0.355em">39</text><text transform="translate(210.44 653.92) rotate(-90)" dy="0.355em">15</text><text transform="translate(224.01 620.97) rotate(-90)" dy="0.355em">985</text><text transform="translate(255.01 657.89) rotate(-90)" dy="0.355em">132</text><text transform="translate(268.58 661.55) rotate(-90)" dy="0.355em">1</text><text transform="translate(282.14 661.55) rotate(-90)" dy="0.355em">6</text><text transform="translate(313.15 661.55) rotate(-90)" dy="0.355em">1</text><text transform="translate(326.71 661.55) rotate(-90)" dy="0.355em">5</text><text transform="translate(340.27 660.02) rotate(-90)" dy="0.355em">11</text><text transform="translate(371.28 530.97) rotate(-90)" dy="0.355em">1487</text><text transform="translate(384.84 573.07) rotate(-90)" dy="0.355em">1845</text><text transform="translate(398.41 579.17) rotate(-90)" dy="0.355em">1730</text><text transform="translate(429.41 638.67) rotate(-90)" dy="0.355em">790</text><text transform="translate(442.98 657.89) rotate(-90)" dy="0.355em">33</text><text transform="translate(456.54 662.46) rotate(-90)" dy="0.355em">0</text><text transform="translate(487.54 647.82) rotate(-90)" dy="0.355em">628</text><text transform="translate(501.11 647.82) rotate(-90)" dy="0.355em">401</text><text transform="translate(514.67 662.46) rotate(-90)" dy="0.355em">8</text><text transform="translate(545.68 662.16) rotate(-90)" dy="0.355em">3</text><text transform="translate(559.24 662.16) rotate(-90)" dy="0.355em">2</text><text transform="translate(572.8 661.55) rotate(-90)" dy="0.355em">15</text><text transform="translate(603.81 649.34) rotate(-90)" dy="0.355em">165</text><text transform="translate(617.37 643.24) rotate(-90)" dy="0.355em">35</text><text transform="translate(630.94 659.41) rotate(-90)" dy="0.355em">11</text><text transform="translate(661.94 658.5) rotate(-90)" dy="0.355em">97</text><text transform="translate(675.51 659.41) rotate(-90)" dy="0.355em">7</text><text transform="translate(689.07 662.46) rotate(-90)" dy="0.355em">2</text><text transform="translate(720.07 660.02) rotate(-90)" dy="0.355em">24</text><text transform="translate(733.64 662.46) rotate(-90)" dy="0.355em">2</text><text transform="translate(747.2 660.02) rotate(-90)" dy="0.355em">26</text><text transform="translate(778.21 648.73) rotate(-90)" dy="0.355em">90</text><text transform="translate(791.77 660.02) rotate(-90)" dy="0.355em">41</text><text transform="translate(805.33 655.45) rotate(-90)" dy="0.355em">93</text><text transform="translate(836.34 655.45) rotate(-90)" dy="0.355em">532</text><text transform="translate(849.9 660.02) rotate(-90)" dy="0.355em">83</text><text transform="translate(863.47 661.55) rotate(-90)" dy="0.355em">20</text><text transform="translate(894.47 661.55) rotate(-90)" dy="0.355em">57</text><text transform="translate(908.04 662.46) rotate(-90)" dy="0.355em">3</text><text transform="translate(921.6 662.46) rotate(-90)" dy="0.355em">1</text><text transform="translate(952.6 656.06) rotate(-90)" dy="0.355em">419</text><text transform="translate(966.17 660.63) rotate(-90)" dy="0.355em">27</text><text transform="translate(979.73 656.36) rotate(-90)" dy="0.355em">111</text><text transform="translate(1010.74 661.55) rotate(-90)" dy="0.355em">52</text><text transform="translate(1024.3 662.46) rotate(-90)" dy="0.355em">3</text><text transform="translate(1037.87 661.55) rotate(-90)" dy="0.355em">12</text><text transform="translate(1068.87 635.62) rotate(-90)" dy="0.355em">695</text><text transform="translate(1082.43 605.11) rotate(-90)" dy="0.355em">698</text><text transform="translate(1096 564.53) rotate(-90)" dy="0.355em">400</text><text transform="translate(1127 653.92) rotate(-90)" dy="0.355em">424</text><text transform="translate(1140.57 653.92) rotate(-90)" dy="0.355em">47</text><text transform="translate(1154.13 659.41) rotate(-90)" dy="0.355em">19</text><text transform="translate(1185.13 662.46) rotate(-90)" dy="0.355em">0</text><text transform="translate(1198.7 662.46) rotate(-90)" dy="0.355em">2</text><text transform="translate(1212.26 662.46) rotate(-90)" dy="0.355em">5</text><text transform="translate(1243.27 661.55) rotate(-90)" dy="0.355em">1</text><text transform="translate(1256.83 661.55) rotate(-90)" dy="0.355em">4</text><text transform="translate(1270.4 651.78) rotate(-90)" dy="0.355em">244</text><text transform="translate(1301.4 662.46) rotate(-90)" dy="0.355em">0</text><text transform="translate(1314.96 662.46) rotate(-90)" dy="0.355em">0</text><text transform="translate(1328.53 661.55) rotate(-90)" dy="0.355em">1</text><text transform="translate(1359.53 659.11) rotate(-90)" dy="0.355em">43</text><text transform="translate(1373.1 661.55) rotate(-90)" dy="0.355em">6</text><text transform="translate(1386.66 653.92) rotate(-90)" dy="0.355em">162</text><text transform="translate(1417.67 652.39) rotate(-90)" dy="0.355em">175</text><text transform="translate(1431.23 655.45) rotate(-90)" dy="0.355em">89</text><text transform="translate(1444.79 662.46) rotate(-90)" dy="0.355em">0</text><text transform="translate(1475.8 662.46) rotate(-90)" dy="0.355em">0</text><text transform="translate(1489.36 661.55) rotate(-90)" dy="0.355em">1</text><text transform="translate(1502.93 662.46) rotate(-90)" dy="0.355em">0</text><text transform="translate(1533.93 661.55) rotate(-90)" dy="0.355em">40</text><text transform="translate(1547.49 662.46) rotate(-90)" dy="0.355em">2</text><text transform="translate(1561.06 662.46) rotate(-90)" dy="0.355em">2</text><text transform="translate(1592.06 659.4) rotate(-90)" dy="0.355em">47</text><text transform="translate(1605.63 659.4) rotate(-90)" dy="0.355em">13</text><text transform="translate(1619.19 661.8) rotate(-90)" dy="0.355em">0</text><text transform="translate(1650.2 661.8) rotate(-90)" dy="0.355em">0</text><text transform="translate(1663.76 661.8) rotate(-90)" dy="0.355em">0</text><text transform="translate(1677.32 661.11) rotate(-90)" dy="0.355em">1</text><text transform="translate(1708.33 654.95) rotate(-90)" dy="0.355em">191</text><text transform="translate(1721.89 658.37) rotate(-90)" dy="0.355em">26</text><text transform="translate(1735.46 658.37) rotate(-90)" dy="0.355em">16</text><text transform="translate(1766.46 635.44) rotate(-90)" dy="0.355em">200</text><text transform="translate(1780.02 633.38) rotate(-90)" dy="0.355em">327</text><text transform="translate(1793.59 661.8) rotate(-90)" dy="0.355em">0</text><text transform="translate(1824.59 598.46) rotate(-90)" dy="0.355em">289</text><text transform="translate(1838.16 652.55) rotate(-90)" dy="0.355em">41</text><text transform="translate(1851.72 637.15) rotate(-90)" dy="0.355em">636</text><text transform="translate(1882.73 647.42) rotate(-90)" dy="0.355em">594</text><text transform="translate(1896.29 661.11) rotate(-90)" dy="0.355em">20</text><text transform="translate(1909.85 658.37) rotate(-90)" dy="0.355em">83</text><text transform="translate(1940.86 647.42) rotate(-90)" dy="0.355em">136</text><text transform="translate(1954.42 610.44) rotate(-90)" dy="0.355em">383</text><text transform="translate(1967.99 640.57) rotate(-90)" dy="0.355em">86</text><text transform="translate(1998.99 649.13) rotate(-90)" dy="0.355em">645</text><text transform="translate(2012.56 653.24) rotate(-90)" dy="0.355em">51</text><text transform="translate(2026.12 660.09) rotate(-90)" dy="0.355em">31</text><text transform="translate(2057.12 649.13) rotate(-90)" dy="0.355em">175</text><text transform="translate(2070.69 621.74) rotate(-90)" dy="0.355em">113</text><text transform="translate(2084.25 648.1) rotate(-90)" dy="0.355em">72</text><text transform="translate(2115.26 656.66) rotate(-90)" dy="0.355em">23</text><text transform="translate(2128.82 657.69) rotate(-90)" dy="0.355em">15</text><text transform="translate(2142.38 629.96) rotate(-90)" dy="0.355em">32</text></g>
<g font-size="16" font-weight="bold" text-anchor="middle"><text x="385.74" y="486.68" fill="#1010D8" stroke="#1010D8" stroke-width="0.2">**</text><text x="399.31" y="470.2" fill="#1010D8" stroke="#1010D8" stroke-width="0.2">**</text><text x="1096.9" y="583.39" fill="#1010D8" stroke="#1010D8" stroke-width="0.2">**</text><text x="1968.89" y="659.28" fill="#1010D8" stroke="#1010D8" stroke-width="0.2">*</text></g>
<rect x="60.2" y="454.5" width="2104.4" height="226.3" fill="none" stroke="#333333" stroke-width="2"/>
<path d="M56.6 670.2H60.2M56.6 596.2H60.2M56.6 522.2H60.2M95.08 680.8V684.4M153.21 680.8V684.4M211.34 680.8V684.4M269.48 680.8V684.4M327.61 680.8V684.4M385.74 680.8V684.4M443.88 680.8V684.4M502.01 680.8V684.4M560.14 680.8V684.4M618.27 680.8V684.4M676.41 680.8V684.4M734.54 680.8V684.4M792.67 680.8V684.4M850.8 680.8V684.4M908.94 680.8V684.4M967.07 680.8V684.4M1025.2 680.8V684.4M1083.33 680.8V684.4M1141.47 680.8V684.4M1199.6 680.8V684.4M1257.73 680.8V684.4M1315.86 680.8V684.4M1374 680.8V684.4M1432.13 680.8V684.4M1490.26 680.8V684.4M1548.39 680.8V684.4M1606.53 680.8V684.4M1664.66 680.8V684.4M1722.79 680.8V684.4M1780.92 680.8V684.4M1839.06 680.8V684.4M1897.19 680.8V684.4M1955.32 680.8V684.4M2013.46 680.8V684.4M2071.59 680.8V684.4M2129.72 680.8V684.4" stroke="#333333" stroke-width="2" fill="none"/>
<g font-size="20" text-anchor="end" stroke="#000" stroke-width="0.3"><text transform="translate(52.5 675.8) scale(1 1.08)">0</text><text transform="translate(52.5 601.8) scale(1 1.08)">20</text><text transform="translate(52.5 527.8) scale(1 1.08)">40</text></g>
<text transform="translate(16.4 567.65) rotate(-90)" text-anchor="middle" font-size="20" stroke="#000" stroke-width="0.3">Percent of sample</text>
<g font-size="20" text-anchor="end" stroke="#000" stroke-width="0.3"><text transform="translate(90.48 685.8) rotate(-55)"><tspan x="0" y="14.5">B cells</tspan></text><text transform="translate(136.41 685.8) rotate(-55)"><tspan x="0" y="14.5">CCR7−hi</tspan><tspan x="0" y="38">CD4 T cells</tspan></text><text transform="translate(206.74 685.8) rotate(-55)"><tspan x="0" y="14.5">CD4 T cells</tspan></text><text transform="translate(252.68 685.8) rotate(-55)"><tspan x="0" y="14.5">CD63+CD81+</tspan><tspan x="0" y="38">macrophage</tspan></text><text transform="translate(323.01 685.8) rotate(-55)"><tspan x="0" y="14.5">CD69+ CD4 T cells</tspan></text><text transform="translate(368.94 685.8) rotate(-55)"><tspan x="0" y="14.5">CD8 intraepithelial</tspan><tspan x="0" y="38">cells</tspan></text><text transform="translate(427.08 685.8) rotate(-55)"><tspan x="0" y="14.5">CXCR6−hi</tspan><tspan x="0" y="38">CD4 T cells</tspan></text><text transform="translate(497.41 685.8) rotate(-55)"><tspan x="0" y="14.5">Cycling B cells</tspan></text><text transform="translate(555.54 685.8) rotate(-55)"><tspan x="0" y="14.5">Cycling myeloid</tspan></text><text transform="translate(613.67 685.8) rotate(-55)"><tspan x="0" y="14.5">Cycling T cells</tspan></text><text transform="translate(659.61 685.8) rotate(-55)"><tspan x="0" y="14.5">Dendritic cell −</tspan><tspan x="0" y="38">CCR7−hi</tspan></text><text transform="translate(729.94 685.8) rotate(-55)"><tspan x="0" y="14.5">Dendritic cell − cDC1</tspan></text><text transform="translate(788.07 685.8) rotate(-55)"><tspan x="0" y="14.5">Dendritic cell − cDC2</tspan></text><text transform="translate(834 685.8) rotate(-55)"><tspan x="0" y="14.5">Follicular helper</tspan><tspan x="0" y="38">T cells</tspan></text><text transform="translate(904.34 685.8) rotate(-55)"><tspan x="0" y="14.5">GZMB−hi pDC</tspan></text><text transform="translate(950.27 685.8) rotate(-55)"><tspan x="0" y="14.5">GZMK−hi CD8</tspan><tspan x="0" y="38">T cells</tspan></text><text transform="translate(1020.6 685.8) rotate(-55)"><tspan x="0" y="14.5">ILCs</tspan></text><text transform="translate(1078.73 685.8) rotate(-55)"><tspan x="0" y="14.5">Intraepithelial Tgd</tspan></text><text transform="translate(1124.67 685.8) rotate(-55)"><tspan x="0" y="14.5">LP−associated</tspan><tspan x="0" y="38">NK−Tgd</tspan></text><text transform="translate(1195 685.8) rotate(-55)"><tspan x="0" y="14.5">Lyve1 macrophage</tspan></text><text transform="translate(1253.13 685.8) rotate(-55)"><tspan x="0" y="14.5">M2−like macrophage</tspan></text><text transform="translate(1299.06 685.8) rotate(-55)"><tspan x="0" y="14.5">M2−like macrophage</tspan><tspan x="0" y="38">−A2M−hi</tspan></text><text transform="translate(1369.4 685.8) rotate(-55)"><tspan x="0" y="14.5">Mast cells</tspan></text><text transform="translate(1427.53 685.8) rotate(-55)"><tspan x="0" y="14.5">Monocyte</tspan></text><text transform="translate(1473.46 685.8) rotate(-55)"><tspan x="0" y="14.5">Monocyte−</tspan><tspan x="0" y="38">CCL3−4−hi</tspan></text><text transform="translate(1543.79 685.8) rotate(-55)"><tspan x="0" y="14.5">Monocyte−FPR1−hi</tspan></text><text transform="translate(1601.93 685.8) rotate(-55)"><tspan x="0" y="14.5">Monocyte−HSP−hi</tspan></text><text transform="translate(1660.06 685.8) rotate(-55)"><tspan x="0" y="14.5">Monocyte−IL1B−hi</tspan></text><text transform="translate(1705.99 685.8) rotate(-55)"><tspan x="0" y="14.5">NAMPT−hi</tspan><tspan x="0" y="38">neutrophils</tspan></text><text transform="translate(1776.32 685.8) rotate(-55)"><tspan x="0" y="14.5">Neutrophils</tspan></text><text transform="translate(1834.46 685.8) rotate(-55)"><tspan x="0" y="14.5">Plasma cells−IgA</tspan></text><text transform="translate(1892.59 685.8) rotate(-55)"><tspan x="0" y="14.5">Plasma cells−IgG</tspan></text><text transform="translate(1950.72 685.8) rotate(-55)"><tspan x="0" y="14.5">PLGC2−hi T cells</tspan></text><text transform="translate(2008.86 685.8) rotate(-55)"><tspan x="0" y="14.5">Regulatory T cells</tspan></text><text transform="translate(2066.99 685.8) rotate(-55)"><tspan x="0" y="14.5">Tissue macrophage</tspan></text><text transform="translate(2112.92 685.8) rotate(-55)"><tspan x="0" y="14.5">Tissue macrophage−</tspan><tspan x="0" y="38">KRT−hi</tspan></text></g>
<text x="168.4" y="881.1" font-size="20" stroke="#000" stroke-width="0.3">Stromal cells</text>
<g><rect x="182.01" y="1007.39" width="12.42" height="96.71" fill="#D86088"/><rect x="194.43" y="1000.37" width="12.42" height="103.73" fill="#6389DA"/><rect x="206.85" y="1002.51" width="12.42" height="101.59" fill="#97DA62"/><rect x="235.24" y="1089.76" width="12.42" height="14.34" fill="#D86088"/><rect x="247.66" y="1096.47" width="12.42" height="7.63" fill="#6389DA"/><rect x="260.08" y="1103.79" width="12.42" height="0.31" fill="#97DA62"/><rect x="288.46" y="1099.52" width="12.42" height="4.58" fill="#D86088"/><rect x="300.88" y="1099.22" width="12.42" height="4.88" fill="#6389DA"/><rect x="313.3" y="1098.3" width="12.42" height="5.8" fill="#97DA62"/><rect x="341.69" y="1103.49" width="12.42" height="0.61" fill="#D86088"/><rect x="354.11" y="1103.49" width="12.42" height="0.61" fill="#6389DA"/><rect x="394.92" y="1101.05" width="12.42" height="3.05" fill="#D86088"/><rect x="407.34" y="1099.52" width="12.42" height="4.58" fill="#6389DA"/><rect x="419.76" y="1098.61" width="12.42" height="5.49" fill="#97DA62"/><rect x="448.15" y="980.54" width="12.42" height="123.56" fill="#D86088"/><rect x="460.57" y="1046.13" width="12.42" height="57.97" fill="#6389DA"/><rect x="472.99" y="1037.59" width="12.42" height="66.51" fill="#97DA62"/><rect x="501.38" y="1083.66" width="12.42" height="20.44" fill="#D86088"/><rect x="513.8" y="1058.34" width="12.42" height="45.76" fill="#6389DA"/><rect x="526.22" y="1043.39" width="12.42" height="60.71" fill="#97DA62"/><rect x="554.61" y="1056.2" width="12.42" height="47.9" fill="#D86088"/><rect x="567.03" y="1079.39" width="12.42" height="24.71" fill="#6389DA"/><rect x="579.45" y="1087.32" width="12.42" height="16.78" fill="#97DA62"/><rect x="607.83" y="1087.93" width="12.42" height="16.17" fill="#D86088"/><rect x="620.25" y="1086.41" width="12.42" height="17.69" fill="#6389DA"/><rect x="632.67" y="1075.42" width="12.42" height="28.68" fill="#97DA62"/><rect x="661.06" y="1085.18" width="12.42" height="18.92" fill="#D86088"/><rect x="673.48" y="1099.22" width="12.42" height="4.88" fill="#6389DA"/><rect x="685.9" y="1100.13" width="12.42" height="3.97" fill="#97DA62"/><rect x="714.29" y="1101.96" width="12.42" height="2.14" fill="#D86088"/><rect x="726.71" y="1101.66" width="12.42" height="2.44" fill="#6389DA"/><rect x="739.13" y="1102.57" width="12.42" height="1.53" fill="#97DA62"/><rect x="767.52" y="1056.2" width="12.42" height="47.9" fill="#D86088"/><rect x="779.94" y="1065.05" width="12.42" height="39.05" fill="#6389DA"/><rect x="792.36" y="1093.73" width="12.42" height="10.37" fill="#97DA62"/><rect x="820.75" y="1050.1" width="12.42" height="54" fill="#D86088"/><rect x="833.17" y="987.56" width="12.42" height="116.54" fill="#6389DA"/><rect x="845.59" y="1015.02" width="12.42" height="89.08" fill="#97DA62"/><rect x="873.98" y="1042.78" width="12.42" height="61.32" fill="#D86088"/><rect x="886.4" y="1001.9" width="12.42" height="102.2" fill="#6389DA"/><rect x="898.82" y="957.66" width="12.42" height="146.44" fill="#97DA62"/><rect x="927.2" y="1076.03" width="12.42" height="28.07" fill="#D86088"/><rect x="939.62" y="1074.2" width="12.42" height="29.9" fill="#6389DA"/><rect x="980.43" y="1048.27" width="12.42" height="55.83" fill="#D86088"/><rect x="992.85" y="1070.24" width="12.42" height="33.86" fill="#6389DA"/><rect x="1005.27" y="1043.08" width="12.42" height="61.02" fill="#97DA62"/></g>
<path d="M188.22 985.73V1028.74M185.8 985.73H190.63M185.8 1028.74H190.63M200.64 985.73V1016.24M198.22 985.73H203.05M198.22 1016.24H203.05M213.06 972.91V1032.1M210.64 972.91H215.47M210.64 1032.1H215.47M241.45 1081.22V1098M239.03 1081.22H243.86M239.03 1098H243.86M253.87 1090.98V1101.96M251.45 1090.98H256.28M251.45 1101.96H256.28M266.29 1103.49V1104.1M263.87 1103.49H268.7M263.87 1104.1H268.7M294.67 1097.08V1102.27M292.26 1097.08H297.09M292.26 1102.27H297.09M307.09 1097.08V1101.35M304.68 1097.08H309.51M304.68 1101.35H309.51M319.51 1094.03V1102.57M317.1 1094.03H321.93M317.1 1102.57H321.93M347.9 1103.18V1104.1M345.48 1103.18H350.32M345.48 1104.1H350.32M360.32 1103.18V1104.1M357.9 1103.18H362.74M357.9 1104.1H362.74M372.74 1103.49V1104.1M370.32 1103.49H375.16M370.32 1104.1H375.16M401.13 1099.83V1102.57M398.71 1099.83H403.55M398.71 1102.57H403.55M413.55 1098V1101.05M411.13 1098H415.97M411.13 1101.05H415.97M425.97 1094.03V1103.18M423.55 1094.03H428.39M423.55 1103.18H428.39M454.36 946.37V1015.32M451.94 946.37H456.78M451.94 1015.32H456.78M466.78 1030.88V1062M464.36 1030.88H469.2M464.36 1062H469.2M479.2 1012.57V1062.61M476.78 1012.57H481.62M476.78 1062.61H481.62M507.59 1078.47V1088.85M505.17 1078.47H510.01M505.17 1088.85H510.01M520.01 1047.66V1068.71M517.59 1047.66H522.43M517.59 1068.71H522.43M532.43 1020.81V1066.57M530.01 1020.81H534.85M530.01 1066.57H534.85M560.82 1032.41V1080.3M558.4 1032.41H563.23M558.4 1080.3H563.23M573.24 1068.41V1090.68M570.82 1068.41H575.65M570.82 1090.68H575.65M585.66 1080.91V1094.03M583.24 1080.91H588.07M583.24 1094.03H588.07M614.04 1083.35V1092.51M611.63 1083.35H616.46M611.63 1092.51H616.46M626.46 1080.91V1091.9M624.05 1080.91H628.88M624.05 1091.9H628.88M638.88 1061.69V1088.54M636.47 1061.69H641.3M636.47 1088.54H641.3M667.27 1078.47V1091.9M664.85 1078.47H669.69M664.85 1091.9H669.69M679.69 1097.39V1101.66M677.27 1097.39H682.11M677.27 1101.66H682.11M692.11 1097.69V1102.88M689.69 1097.69H694.53M689.69 1102.88H694.53M720.5 1100.74V1103.49M718.08 1100.74H722.92M718.08 1103.49H722.92M732.92 1100.44V1103.18M730.5 1100.44H735.34M730.5 1103.18H735.34M745.34 1101.66V1104.41M742.92 1101.66H747.76M742.92 1104.41H747.76M773.73 1043.08V1069.02M771.31 1043.08H776.15M771.31 1069.02H776.15M786.15 1054.68V1075.12M783.73 1054.68H788.57M783.73 1075.12H788.57M798.57 1088.85V1098.3M796.15 1088.85H800.99M796.15 1098.3H800.99M826.96 1031.18V1069.02M824.54 1031.18H829.38M824.54 1069.02H829.38M839.38 961.02V1014.41M836.96 961.02H841.8M836.96 1014.41H841.8M851.8 980.54V1050.1M849.38 980.54H854.22M849.38 1050.1H854.22M880.19 1023.25V1062.3M877.77 1023.25H882.6M877.77 1062.3H882.6M892.61 976.88V1026.91M890.19 976.88H895.02M890.19 1026.91H895.02M905.03 900.3V1015.32M902.61 900.3H907.44M902.61 1015.32H907.44M933.41 1056.51V1095.25M931 1056.51H935.83M931 1095.25H935.83M945.83 1052.54V1094.95M943.42 1052.54H948.25M943.42 1094.95H948.25M958.25 1103.49V1104.1M955.84 1103.49H960.67M955.84 1104.1H960.67M986.64 1038.2V1058.34M984.23 1038.2H989.06M984.23 1058.34H989.06M999.06 1063.52V1076.34M996.65 1063.52H1001.48M996.65 1076.34H1001.48M1011.48 1027.83V1058.64M1009.07 1027.83H1013.9M1009.07 1058.64H1013.9" stroke="#000" stroke-width="2" fill="none"/>
<g font-size="16.4" stroke="#000" stroke-width="0.3"><text transform="translate(187.32 978.6) rotate(-90)" dy="0.355em">720</text><text transform="translate(199.74 977.07) rotate(-90)" dy="0.355em">875</text><text transform="translate(212.16 965.79) rotate(-90)" dy="0.355em">298</text><text transform="translate(240.55 1073.18) rotate(-90)" dy="0.355em">54</text><text transform="translate(252.97 1082.94) rotate(-90)" dy="0.355em">52</text><text transform="translate(265.39 1094.53) rotate(-90)" dy="0.355em">1</text><text transform="translate(293.77 1088.43) rotate(-90)" dy="0.355em">125</text><text transform="translate(306.19 1089.96) rotate(-90)" dy="0.355em">91</text><text transform="translate(318.61 1086.91) rotate(-90)" dy="0.355em">40</text><text transform="translate(347 1095.45) rotate(-90)" dy="0.355em">9</text><text transform="translate(359.42 1095.45) rotate(-90)" dy="0.355em">1</text><text transform="translate(371.84 1096.97) rotate(-90)" dy="0.355em">0</text><text transform="translate(400.23 1091.48) rotate(-90)" dy="0.355em">63</text><text transform="translate(412.65 1089.96) rotate(-90)" dy="0.355em">80</text><text transform="translate(425.07 1086.91) rotate(-90)" dy="0.355em">27</text><text transform="translate(453.46 938.94) rotate(-90)" dy="0.355em">822</text><text transform="translate(465.88 1023.75) rotate(-90)" dy="0.355em">282</text><text transform="translate(478.3 1003.01) rotate(-90)" dy="0.355em">197</text><text transform="translate(506.69 1070.13) rotate(-90)" dy="0.355em">167</text><text transform="translate(519.11 1039.62) rotate(-90)" dy="0.355em">348</text><text transform="translate(531.53 1006.06) rotate(-90)" dy="0.355em">300</text><text transform="translate(559.92 1024.36) rotate(-90)" dy="0.355em">578</text><text transform="translate(572.34 1060.36) rotate(-90)" dy="0.355em">178</text><text transform="translate(584.76 1073.18) rotate(-90)" dy="0.355em">70</text><text transform="translate(613.14 1075.31) rotate(-90)" dy="0.355em">243</text><text transform="translate(625.56 1072.57) rotate(-90)" dy="0.355em">278</text><text transform="translate(637.98 1051.82) rotate(-90)" dy="0.355em">100</text><text transform="translate(666.37 1070.13) rotate(-90)" dy="0.355em">386</text><text transform="translate(678.79 1089.04) rotate(-90)" dy="0.355em">67</text><text transform="translate(691.21 1087.82) rotate(-90)" dy="0.355em">17</text><text transform="translate(719.6 1092.09) rotate(-90)" dy="0.355em">34</text><text transform="translate(732.02 1092.09) rotate(-90)" dy="0.355em">28</text><text transform="translate(744.44 1093.01) rotate(-90)" dy="0.355em">12</text><text transform="translate(772.83 1035.96) rotate(-90)" dy="0.355em">542</text><text transform="translate(785.25 1047.24) rotate(-90)" dy="0.355em">457</text><text transform="translate(797.67 1080.8) rotate(-90)" dy="0.355em">71</text><text transform="translate(826.06 1023.75) rotate(-90)" dy="0.355em">571</text><text transform="translate(838.48 946.57) rotate(-90)" dy="0.355em">856</text><text transform="translate(850.9 966.4) rotate(-90)" dy="0.355em">401</text><text transform="translate(879.29 1016.13) rotate(-90)" dy="0.355em">616</text><text transform="translate(891.71 967.92) rotate(-90)" dy="0.355em">1809</text><text transform="translate(904.13 1050.29) rotate(-90)" dy="0.355em">401</text><text transform="translate(932.51 1049.38) rotate(-90)" dy="0.355em">540</text><text transform="translate(944.93 1045.72) rotate(-90)" dy="0.355em">297</text><text transform="translate(957.35 1096.97) rotate(-90)" dy="0.355em">2</text><text transform="translate(985.74 1031.07) rotate(-90)" dy="0.355em">698</text><text transform="translate(998.16 1056.4) rotate(-90)" dy="0.355em">364</text><text transform="translate(1010.58 1020.7) rotate(-90)" dy="0.355em">211</text></g>
<g font-size="16" font-weight="bold" text-anchor="middle"><text x="532.43" y="1024.61" fill="#1010D8" stroke="#1010D8" stroke-width="0.2">*</text><text x="839.38" y="964.82" fill="#1010D8" stroke="#1010D8" stroke-width="0.2">**</text><text x="851.8" y="984.34" fill="#1010D8" stroke="#1010D8" stroke-width="0.2">**</text><text x="905.03" y="904.1" fill="#1010D8" stroke="#1010D8" stroke-width="0.2">**</text></g>
<rect x="168.7" y="888.1" width="862.3" height="226.7" fill="none" stroke="#333333" stroke-width="2"/>
<path d="M165.1 1104.1H168.7M165.1 1044H168.7M165.1 983.9H168.7M165.1 923.8H168.7M200.64 1114.8V1118.4M253.87 1114.8V1118.4M307.09 1114.8V1118.4M360.32 1114.8V1118.4M413.55 1114.8V1118.4M466.78 1114.8V1118.4M520.01 1114.8V1118.4M573.24 1114.8V1118.4M626.46 1114.8V1118.4M679.69 1114.8V1118.4M732.92 1114.8V1118.4M786.15 1114.8V1118.4M839.38 1114.8V1118.4M892.61 1114.8V1118.4M945.83 1114.8V1118.4M999.06 1114.8V1118.4" stroke="#333333" stroke-width="2" fill="none"/>
<g font-size="20" text-anchor="end" stroke="#000" stroke-width="0.3"><text transform="translate(161 1109.7) scale(1 1.08)">0</text><text transform="translate(161 1049.6) scale(1 1.08)">10</text><text transform="translate(161 989.5) scale(1 1.08)">20</text><text transform="translate(161 929.4) scale(1 1.08)">30</text></g>
<text transform="translate(124.8 1001.45) rotate(-90)" text-anchor="middle" font-size="20" stroke="#000" stroke-width="0.3">Percent of sample</text>
<g font-size="20" text-anchor="end" stroke="#000" stroke-width="0.3"><text transform="translate(183.84 1119.8) rotate(-55)"><tspan x="0" y="14.5">Arterial</tspan><tspan x="0" y="38">endothelium</tspan></text><text transform="translate(237.07 1119.8) rotate(-55)"><tspan x="0" y="14.5">Collagen−hi</tspan><tspan x="0" y="38">tissue fibroblasts</tspan></text><text transform="translate(290.29 1119.8) rotate(-55)"><tspan x="0" y="14.5">Contractile</tspan><tspan x="0" y="38">pericytes</tspan></text><text transform="translate(343.52 1119.8) rotate(-55)"><tspan x="0" y="14.5">Cycling</tspan><tspan x="0" y="38">endothelium</tspan></text><text transform="translate(408.95 1119.8) rotate(-55)"><tspan x="0" y="14.5">Enteric glia</tspan></text><text transform="translate(449.98 1119.8) rotate(-55)"><tspan x="0" y="14.5">Inflammatory</tspan><tspan x="0" y="38">fibroblasts</tspan></text><text transform="translate(503.21 1119.8) rotate(-55)"><tspan x="0" y="14.5">Lymphatic</tspan><tspan x="0" y="38">endothelium</tspan></text><text transform="translate(556.44 1119.8) rotate(-55)"><tspan x="0" y="14.5">Mito−hi</tspan><tspan x="0" y="38">endothelium</tspan></text><text transform="translate(621.86 1119.8) rotate(-55)"><tspan x="0" y="14.5">Myofibroblasts</tspan></text><text transform="translate(675.09 1119.8) rotate(-55)"><tspan x="0" y="14.5">Pericytes</tspan></text><text transform="translate(716.12 1119.8) rotate(-55)"><tspan x="0" y="14.5">SIP syncytium</tspan><tspan x="0" y="38">fibroblasts</tspan></text><text transform="translate(781.55 1119.8) rotate(-55)"><tspan x="0" y="14.5">Telocyte</tspan></text><text transform="translate(822.58 1119.8) rotate(-55)"><tspan x="0" y="14.5">Tissue</tspan><tspan x="0" y="38">fibroblasts</tspan></text><text transform="translate(888.01 1119.8) rotate(-55)"><tspan x="0" y="14.5">Trophocyte</tspan></text><text transform="translate(929.03 1119.8) rotate(-55)"><tspan x="0" y="14.5">Trophocyte−</tspan><tspan x="0" y="38">TGFBI−hi</tspan></text><text transform="translate(982.26 1119.8) rotate(-55)"><tspan x="0" y="14.5">Venous</tspan><tspan x="0" y="38">endothelium</tspan></text></g>
<text x="1120.2" y="881.1" font-size="20" stroke="#000" stroke-width="0.3">Epithelial cells</text>
<g><rect x="1133.69" y="1036.68" width="12.59" height="67.42" fill="#D86088"/><rect x="1146.29" y="1073.29" width="12.59" height="30.81" fill="#6389DA"/><rect x="1158.88" y="1087.32" width="12.59" height="16.78" fill="#97DA62"/><rect x="1187.66" y="968.64" width="12.59" height="135.46" fill="#D86088"/><rect x="1200.25" y="1054.98" width="12.59" height="49.12" fill="#6389DA"/><rect x="1212.85" y="1078.17" width="12.59" height="25.93" fill="#97DA62"/><rect x="1241.63" y="1068.71" width="12.59" height="35.39" fill="#D86088"/><rect x="1254.22" y="938.13" width="12.59" height="165.97" fill="#6389DA"/><rect x="1266.82" y="981.76" width="12.59" height="122.34" fill="#97DA62"/><rect x="1295.6" y="1061.08" width="12.59" height="43.02" fill="#D86088"/><rect x="1308.19" y="1068.41" width="12.59" height="35.69" fill="#6389DA"/><rect x="1320.79" y="1022.34" width="12.59" height="81.76" fill="#97DA62"/><rect x="1349.57" y="1017.15" width="12.59" height="86.95" fill="#D86088"/><rect x="1362.16" y="1034.24" width="12.59" height="69.86" fill="#6389DA"/><rect x="1374.75" y="1060.47" width="12.59" height="43.63" fill="#97DA62"/><rect x="1403.54" y="1103.79" width="12.59" height="0.31" fill="#D86088"/><rect x="1590.63" y="1082.87" width="12.59" height="21.23" fill="#97DA62"/><rect x="1619.41" y="1103.42" width="12.59" height="0.68" fill="#D86088"/><rect x="1632.01" y="1103.07" width="12.59" height="1.03" fill="#6389DA"/><rect x="1644.6" y="1101.7" width="12.59" height="2.4" fill="#97DA62"/><rect x="1673.38" y="1064.73" width="12.59" height="39.37" fill="#D86088"/><rect x="1685.98" y="1076.03" width="12.59" height="28.07" fill="#6389DA"/><rect x="1698.57" y="1067.81" width="12.59" height="36.29" fill="#97DA62"/><rect x="1781.32" y="1103.76" width="12.59" height="0.34" fill="#D86088"/><rect x="1793.91" y="1103.07" width="12.59" height="1.03" fill="#6389DA"/><rect x="1806.51" y="1089.72" width="12.59" height="14.38" fill="#97DA62"/><rect x="1847.88" y="1082.19" width="12.59" height="21.91" fill="#6389DA"/><rect x="1889.26" y="1087.67" width="12.59" height="16.43" fill="#D86088"/><rect x="1901.85" y="1083.56" width="12.59" height="20.54" fill="#6389DA"/><rect x="1914.45" y="1047.61" width="12.59" height="56.49" fill="#97DA62"/><rect x="1943.23" y="1103.07" width="12.59" height="1.03" fill="#D86088"/><rect x="1955.82" y="1102.39" width="12.59" height="1.71" fill="#6389DA"/><rect x="1968.41" y="1099.31" width="12.59" height="4.79" fill="#97DA62"/></g>
<path d="M1139.99 1007.69V1065.05M1137.54 1007.69H1142.44M1137.54 1065.05H1142.44M1152.58 1055.9V1090.37M1150.13 1055.9H1155.03M1150.13 1090.37H1155.03M1165.17 1068.71V1104.71M1162.73 1068.71H1167.62M1162.73 1104.71H1167.62M1193.96 940.27V997.02M1191.51 940.27H1196.41M1191.51 997.02H1196.41M1206.55 1035.76V1073.29M1204.1 1035.76H1209M1204.1 1073.29H1209M1219.14 1068.1V1087.32M1216.69 1068.1H1221.59M1216.69 1087.32H1221.59M1247.93 1050.41V1086.71M1245.48 1050.41H1250.38M1245.48 1086.71H1250.38M1260.52 900.3V975.05M1258.07 900.3H1262.97M1258.07 975.05H1262.97M1273.11 945.46V1018.07M1270.66 945.46H1275.56M1270.66 1018.07H1275.56M1301.9 1037.29V1084.57M1299.45 1037.29H1304.34M1299.45 1084.57H1304.34M1314.49 1054.98V1080.91M1312.04 1054.98H1316.94M1312.04 1080.91H1316.94M1327.08 993.35V1050.41M1324.63 993.35H1329.53M1324.63 1050.41H1329.53M1355.87 1002.81V1031.79M1353.42 1002.81H1358.31M1353.42 1031.79H1358.31M1368.46 1011.66V1057.42M1366.01 1011.66H1370.91M1366.01 1057.42H1370.91M1381.05 1043.08V1078.17M1378.6 1043.08H1383.5M1378.6 1078.17H1383.5M1409.83 1103.49V1104.1M1407.39 1103.49H1412.28M1407.39 1104.1H1412.28M1422.43 1103.49V1104.1M1419.98 1103.49H1424.88M1419.98 1104.1H1424.88M1435.02 1103.49V1104.1M1432.57 1103.49H1437.47M1432.57 1104.1H1437.47M1463.8 1103.49V1104.1M1461.35 1103.49H1466.25M1461.35 1104.1H1466.25M1476.4 1103.49V1104.1M1473.95 1103.49H1478.85M1473.95 1104.1H1478.85M1488.99 1103.49V1104.1M1486.54 1103.49H1491.44M1486.54 1104.1H1491.44M1517.77 1103.49V1104.1M1515.32 1103.49H1520.22M1515.32 1104.1H1520.22M1530.37 1103.49V1104.1M1527.92 1103.49H1532.81M1527.92 1104.1H1532.81M1542.96 1103.49V1104.1M1540.51 1103.49H1545.41M1540.51 1104.1H1545.41M1571.74 1103.42V1104.1M1569.29 1103.42H1574.19M1569.29 1104.1H1574.19M1584.33 1103.42V1104.1M1581.89 1103.42H1586.78M1581.89 1104.1H1586.78M1596.93 1061.3V1104.1M1594.48 1061.3H1599.38M1594.48 1104.1H1599.38M1625.71 1103.07V1104.1M1623.26 1103.07H1628.16M1623.26 1104.1H1628.16M1638.3 1102.39V1103.76M1635.85 1102.39H1640.75M1635.85 1103.76H1640.75M1650.9 1099.99V1103.07M1648.45 1099.99H1653.35M1648.45 1103.07H1653.35M1679.68 1057.19V1071.57M1677.23 1057.19H1682.13M1677.23 1071.57H1682.13M1692.27 1069.86V1082.53M1689.82 1069.86H1694.72M1689.82 1082.53H1694.72M1704.87 1057.88V1077.39M1702.42 1057.88H1707.31M1702.42 1077.39H1707.31M1733.65 1103.42V1104.1M1731.2 1103.42H1736.1M1731.2 1104.1H1736.1M1746.24 1103.42V1104.1M1743.79 1103.42H1748.69M1743.79 1104.1H1748.69M1758.83 1103.42V1104.1M1756.39 1103.42H1761.28M1756.39 1104.1H1761.28M1787.62 1103.42V1104.1M1785.17 1103.42H1790.07M1785.17 1104.1H1790.07M1800.21 1102.39V1103.76M1797.76 1102.39H1802.66M1797.76 1103.76H1802.66M1812.8 1081.5V1097.59M1810.36 1081.5H1815.25M1810.36 1097.59H1815.25M1841.59 1103.42V1104.1M1839.14 1103.42H1844.04M1839.14 1104.1H1844.04M1854.18 1059.59V1104.1M1851.73 1059.59H1856.63M1851.73 1104.1H1856.63M1866.77 1103.42V1104.1M1864.32 1103.42H1869.22M1864.32 1104.1H1869.22M1895.56 1082.53V1092.8M1893.11 1082.53H1898.01M1893.11 1092.8H1898.01M1908.15 1075.68V1091.09M1905.7 1075.68H1910.6M1905.7 1091.09H1910.6M1920.74 1020.22V1075.34M1918.29 1020.22H1923.19M1918.29 1075.34H1923.19M1949.53 1102.39V1104.1M1947.08 1102.39H1951.97M1947.08 1104.1H1951.97M1962.12 1101.36V1103.42M1959.67 1101.36H1964.57M1959.67 1103.42H1964.57M1974.71 1096.91V1102.05M1972.26 1096.91H1977.16M1972.26 1102.05H1977.16" stroke="#000" stroke-width="2" fill="none"/>
<g font-size="16.4" stroke="#000" stroke-width="0.3"><text transform="translate(1139.09 999.35) rotate(-90)" dy="0.355em">7034</text><text transform="translate(1151.68 1048.16) rotate(-90)" dy="0.355em">2454</text><text transform="translate(1164.27 1053.35) rotate(-90)" dy="0.355em">1048</text><text transform="translate(1193.06 932.23) rotate(-90)" dy="0.355em">8985</text><text transform="translate(1205.65 1028.33) rotate(-90)" dy="0.355em">2518</text><text transform="translate(1218.24 1059.45) rotate(-90)" dy="0.355em">1640</text><text transform="translate(1247.03 1042.67) rotate(-90)" dy="0.355em">3807</text><text transform="translate(1259.62 1025.89) rotate(-90)" dy="0.355em">16615</text><text transform="translate(1272.21 1061.58) rotate(-90)" dy="0.355em">6415</text><text transform="translate(1301 1029.85) rotate(-90)" dy="0.355em">2099</text><text transform="translate(1313.59 1047.24) rotate(-90)" dy="0.355em">2432</text><text transform="translate(1326.18 986.23) rotate(-90)" dy="0.355em">5399</text><text transform="translate(1354.97 996.29) rotate(-90)" dy="0.355em">4690</text><text transform="translate(1367.56 1003.92) rotate(-90)" dy="0.355em">5867</text><text transform="translate(1380.15 1028.94) rotate(-90)" dy="0.355em">2215</text><text transform="translate(1408.93 1096.06) rotate(-90)" dy="0.355em">93</text><text transform="translate(1421.53 1096.97) rotate(-90)" dy="0.355em">0</text><text transform="translate(1434.12 1096.97) rotate(-90)" dy="0.355em">0</text><text transform="translate(1462.9 1096.97) rotate(-90)" dy="0.355em">0</text><text transform="translate(1475.5 1096.97) rotate(-90)" dy="0.355em">0</text><text transform="translate(1488.09 1096.97) rotate(-90)" dy="0.355em">0</text><text transform="translate(1516.87 1096.97) rotate(-90)" dy="0.355em">0</text><text transform="translate(1529.47 1096.97) rotate(-90)" dy="0.355em">0</text><text transform="translate(1542.06 1096.97) rotate(-90)" dy="0.355em">0</text><text transform="translate(1570.84 1096.73) rotate(-90)" dy="0.355em">0</text><text transform="translate(1583.43 1096.73) rotate(-90)" dy="0.355em">1</text><text transform="translate(1596.03 1053.93) rotate(-90)" dy="0.355em">886</text><text transform="translate(1624.81 1095.01) rotate(-90)" dy="0.355em">68</text><text transform="translate(1637.4 1092.62) rotate(-90)" dy="0.355em">109</text><text transform="translate(1650 1089.88) rotate(-90)" dy="0.355em">139</text><text transform="translate(1678.78 1049.48) rotate(-90)" dy="0.355em">2781</text><text transform="translate(1691.37 1061.8) rotate(-90)" dy="0.355em">2321</text><text transform="translate(1703.97 1048.79) rotate(-90)" dy="0.355em">1265</text><text transform="translate(1732.75 1096.04) rotate(-90)" dy="0.355em">1</text><text transform="translate(1745.34 1096.73) rotate(-90)" dy="0.355em">0</text><text transform="translate(1757.93 1096.73) rotate(-90)" dy="0.355em">0</text><text transform="translate(1786.72 1095.01) rotate(-90)" dy="0.355em">78</text><text transform="translate(1799.31 1093.3) rotate(-90)" dy="0.355em">219</text><text transform="translate(1811.9 1074.47) rotate(-90)" dy="0.355em">890</text><text transform="translate(1840.69 1096.73) rotate(-90)" dy="0.355em">0</text><text transform="translate(1853.28 1051.53) rotate(-90)" dy="0.355em">4315</text><text transform="translate(1865.87 1096.73) rotate(-90)" dy="0.355em">0</text><text transform="translate(1894.66 1074.47) rotate(-90)" dy="0.355em">1341</text><text transform="translate(1907.25 1065.91) rotate(-90)" dy="0.355em">1702</text><text transform="translate(1919.84 1012.84) rotate(-90)" dy="0.355em">2317</text><text transform="translate(1948.63 1093.99) rotate(-90)" dy="0.355em">69</text><text transform="translate(1961.22 1091.59) rotate(-90)" dy="0.355em">160</text><text transform="translate(1973.81 1089.19) rotate(-90)" dy="0.355em">268</text></g>
<g font-size="16" font-weight="bold" text-anchor="middle"><text x="1165.17" y="1072.51" fill="#E8101A" stroke="#E8101A" stroke-width="0.2">*</text><text x="1260.52" y="904.1" fill="#1010D8" stroke="#1010D8" stroke-width="0.2">**</text><text x="1273.11" y="949.26" fill="#1010D8" stroke="#1010D8" stroke-width="0.2">*</text><text x="1381.05" y="1046.88" fill="#E8101A" stroke="#E8101A" stroke-width="0.2">*</text></g>
<rect x="1120.2" y="888.1" width="874.3" height="226.7" fill="none" stroke="#333333" stroke-width="2"/>
<path d="M1116.6 1104.1H1120.2M1116.6 1060.9H1120.2M1116.6 1017.7H1120.2M1116.6 974.5H1120.2M1116.6 931.3H1120.2M1116.6 888.1H1120.2M1152.58 1114.8V1118.4M1206.55 1114.8V1118.4M1260.52 1114.8V1118.4M1314.49 1114.8V1118.4M1368.46 1114.8V1118.4M1422.43 1114.8V1118.4M1476.4 1114.8V1118.4M1530.37 1114.8V1118.4M1584.33 1114.8V1118.4M1638.3 1114.8V1118.4M1692.27 1114.8V1118.4M1746.24 1114.8V1118.4M1800.21 1114.8V1118.4M1854.18 1114.8V1118.4M1908.15 1114.8V1118.4M1962.12 1114.8V1118.4" stroke="#333333" stroke-width="2" fill="none"/>
<g font-size="20" text-anchor="end" stroke="#000" stroke-width="0.3"><text transform="translate(1112.5 1109.7) scale(1 1.08)">0</text><text transform="translate(1112.5 1066.5) scale(1 1.08)">10</text><text transform="translate(1112.5 1023.3) scale(1 1.08)">20</text><text transform="translate(1112.5 980.1) scale(1 1.08)">30</text><text transform="translate(1112.5 936.9) scale(1 1.08)">40</text><text transform="translate(1112.5 893.7) scale(1 1.08)">50</text></g>
<g font-size="20" text-anchor="end" stroke="#000" stroke-width="0.3"><text transform="translate(1135.78 1119.8) rotate(-55)"><tspan x="0" y="14.5">Colonocytes−</tspan><tspan x="0" y="38">CEACAM−hi</tspan></text><text transform="translate(1189.75 1119.8) rotate(-55)"><tspan x="0" y="14.5">Colonocytes−</tspan><tspan x="0" y="38">LGALS4−hi</tspan></text><text transform="translate(1243.72 1119.8) rotate(-55)"><tspan x="0" y="14.5">Enterocyte−</tspan><tspan x="0" y="38">ANPEP−hi</tspan></text><text transform="translate(1297.69 1119.8) rotate(-55)"><tspan x="0" y="14.5">Enterocyte−</tspan><tspan x="0" y="38">FABP−hi</tspan></text><text transform="translate(1351.66 1119.8) rotate(-55)"><tspan x="0" y="14.5">Enterocyte−</tspan><tspan x="0" y="38">mito−hi</tspan></text><text transform="translate(1405.63 1119.8) rotate(-55)"><tspan x="0" y="14.5">Enterocytes−</tspan><tspan x="0" y="38">COX−hi</tspan></text><text transform="translate(1459.6 1119.8) rotate(-55)"><tspan x="0" y="14.5">Enterocytes−</tspan><tspan x="0" y="38">FTL−hi</tspan></text><text transform="translate(1513.57 1119.8) rotate(-55)"><tspan x="0" y="14.5">Enterocytes−</tspan><tspan x="0" y="38">FTL−hi2</tspan></text><text transform="translate(1567.53 1119.8) rotate(-55)"><tspan x="0" y="14.5">Enterocytes−</tspan><tspan x="0" y="38">MT−hi</tspan></text><text transform="translate(1621.5 1119.8) rotate(-55)"><tspan x="0" y="14.5">Enteroendocrine</tspan><tspan x="0" y="38">cells</tspan></text><text transform="translate(1687.67 1119.8) rotate(-55)"><tspan x="0" y="14.5">Goblet cells</tspan></text><text transform="translate(1729.44 1119.8) rotate(-55)"><tspan x="0" y="14.5">Goblet cells−</tspan><tspan x="0" y="38">DEF−hi</tspan></text><text transform="translate(1795.61 1119.8) rotate(-55)"><tspan x="0" y="14.5">Paneth cells</tspan></text><text transform="translate(1849.58 1119.8) rotate(-55)"><tspan x="0" y="14.5">Ribo−hi subset</tspan></text><text transform="translate(1891.35 1119.8) rotate(-55)"><tspan x="0" y="14.5">Stem−like cells</tspan><tspan x="0" y="38">−OLFM4−hi</tspan></text><text transform="translate(1957.52 1119.8) rotate(-55)"><tspan x="0" y="14.5">Tuft cells</tspan></text></g>
<text x="60.1" y="1284.1" font-size="20" stroke="#000" stroke-width="0.3">Immune cells</text>
<g><rect x="74.73" y="1411.02" width="20.35" height="94.58" fill="#D86088"/><rect x="95.08" y="1430.55" width="20.35" height="75.05" fill="#6389DA"/><rect x="132.87" y="1444.89" width="20.35" height="60.71" fill="#D86088"/><rect x="153.21" y="1479.67" width="20.35" height="25.93" fill="#6389DA"/><rect x="191" y="1424.14" width="20.35" height="81.46" fill="#D86088"/><rect x="211.34" y="1425.97" width="20.35" height="79.63" fill="#6389DA"/><rect x="249.13" y="1499.5" width="20.35" height="6.1" fill="#D86088"/><rect x="269.48" y="1503.46" width="20.35" height="2.14" fill="#6389DA"/><rect x="307.26" y="1500.72" width="20.35" height="4.88" fill="#D86088"/><rect x="327.61" y="1484.24" width="20.35" height="21.36" fill="#6389DA"/><rect x="365.4" y="1490.35" width="20.35" height="15.25" fill="#D86088"/><rect x="385.74" y="1441.23" width="20.35" height="64.37" fill="#6389DA"/><rect x="423.53" y="1499.19" width="20.35" height="6.41" fill="#D86088"/><rect x="443.88" y="1502.85" width="20.35" height="2.75" fill="#6389DA"/><rect x="481.66" y="1493.4" width="20.35" height="12.2" fill="#D86088"/><rect x="502.01" y="1487.29" width="20.35" height="18.31" fill="#6389DA"/><rect x="539.79" y="1504.68" width="20.35" height="0.92" fill="#D86088"/><rect x="560.14" y="1503.77" width="20.35" height="1.83" fill="#6389DA"/><rect x="597.93" y="1500.11" width="20.35" height="5.49" fill="#D86088"/><rect x="618.27" y="1503.16" width="20.35" height="2.44" fill="#6389DA"/><rect x="656.06" y="1502.55" width="20.35" height="3.05" fill="#D86088"/><rect x="676.41" y="1504.38" width="20.35" height="1.22" fill="#6389DA"/><rect x="714.19" y="1502.55" width="20.35" height="3.05" fill="#D86088"/><rect x="734.54" y="1503.16" width="20.35" height="2.44" fill="#6389DA"/><rect x="772.32" y="1498.58" width="20.35" height="7.02" fill="#D86088"/><rect x="792.67" y="1497.06" width="20.35" height="8.54" fill="#6389DA"/><rect x="830.46" y="1492.48" width="20.35" height="13.12" fill="#D86088"/><rect x="850.8" y="1500.41" width="20.35" height="5.19" fill="#6389DA"/><rect x="888.59" y="1503.16" width="20.35" height="2.44" fill="#D86088"/><rect x="908.94" y="1505.29" width="20.35" height="0.31" fill="#6389DA"/><rect x="946.72" y="1480.89" width="20.35" height="24.71" fill="#D86088"/><rect x="967.07" y="1486.38" width="20.35" height="19.22" fill="#6389DA"/><rect x="1004.85" y="1502.85" width="20.35" height="2.75" fill="#D86088"/><rect x="1025.2" y="1501.33" width="20.35" height="4.27" fill="#6389DA"/><rect x="1062.99" y="1501.02" width="20.35" height="4.58" fill="#D86088"/><rect x="1083.33" y="1492.18" width="20.35" height="13.42" fill="#6389DA"/><rect x="1121.12" y="1494.31" width="20.35" height="11.29" fill="#D86088"/><rect x="1141.47" y="1491.57" width="20.35" height="14.03" fill="#6389DA"/><rect x="1179.25" y="1504.99" width="20.35" height="0.61" fill="#D86088"/><rect x="1199.6" y="1500.41" width="20.35" height="5.19" fill="#6389DA"/><rect x="1237.39" y="1501.63" width="20.35" height="3.97" fill="#D86088"/><rect x="1257.73" y="1490.35" width="20.35" height="15.25" fill="#6389DA"/><rect x="1295.52" y="1500.72" width="20.35" height="4.88" fill="#D86088"/><rect x="1315.86" y="1503.16" width="20.35" height="2.44" fill="#6389DA"/><rect x="1353.65" y="1482.11" width="20.35" height="23.49" fill="#D86088"/><rect x="1374" y="1466.24" width="20.35" height="39.36" fill="#6389DA"/><rect x="1411.78" y="1494.92" width="20.35" height="10.68" fill="#D86088"/><rect x="1432.13" y="1499.19" width="20.35" height="6.41" fill="#6389DA"/><rect x="1469.92" y="1505.29" width="20.35" height="0.31" fill="#D86088"/><rect x="1528.05" y="1502.55" width="20.35" height="3.05" fill="#D86088"/><rect x="1548.39" y="1505.29" width="20.35" height="0.31" fill="#6389DA"/><rect x="1586.18" y="1498.75" width="20.35" height="6.85" fill="#D86088"/><rect x="1606.53" y="1499.09" width="20.35" height="6.51" fill="#6389DA"/><rect x="1644.31" y="1501.83" width="20.35" height="3.77" fill="#D86088"/><rect x="1664.66" y="1497.04" width="20.35" height="8.56" fill="#6389DA"/><rect x="1702.45" y="1487.8" width="20.35" height="17.8" fill="#D86088"/><rect x="1722.79" y="1491.22" width="20.35" height="14.38" fill="#6389DA"/><rect x="1760.58" y="1470.34" width="20.35" height="35.26" fill="#D86088"/><rect x="1780.92" y="1469.65" width="20.35" height="35.95" fill="#6389DA"/><rect x="1818.71" y="1338.86" width="20.35" height="166.74" fill="#D86088"/><rect x="1839.06" y="1337.15" width="20.35" height="168.45" fill="#6389DA"/><rect x="1876.84" y="1456.64" width="20.35" height="48.96" fill="#D86088"/><rect x="1897.19" y="1487.8" width="20.35" height="17.8" fill="#6389DA"/><rect x="1934.98" y="1503.2" width="20.35" height="2.4" fill="#D86088"/><rect x="1955.32" y="1492.59" width="20.35" height="13.01" fill="#6389DA"/><rect x="1993.11" y="1469.65" width="20.35" height="35.95" fill="#D86088"/><rect x="2013.46" y="1482.66" width="20.35" height="22.94" fill="#6389DA"/><rect x="2051.24" y="1486.43" width="20.35" height="19.17" fill="#D86088"/><rect x="2071.59" y="1482.32" width="20.35" height="23.28" fill="#6389DA"/><rect x="2109.37" y="1504.57" width="20.35" height="1.03" fill="#D86088"/><rect x="2129.72" y="1501.49" width="20.35" height="4.11" fill="#6389DA"/></g>
<path d="M84.91 1387.53V1435.13M81.07 1387.53H88.74M81.07 1435.13H88.74M105.25 1406.45V1454.04M101.42 1406.45H109.09M101.42 1454.04H109.09M143.04 1427.19V1461.97M139.21 1427.19H146.87M139.21 1461.97H146.87M163.39 1468.38V1491.26M159.55 1468.38H167.22M159.55 1491.26H167.22M201.17 1391.19V1456.79M197.34 1391.19H205M197.34 1456.79H205M221.52 1408.89V1443.06M217.68 1408.89H225.35M217.68 1443.06H225.35M259.3 1496.45V1502.55M255.47 1496.45H263.14M255.47 1502.55H263.14M279.65 1501.94V1504.99M275.82 1501.94H283.48M275.82 1504.99H283.48M317.44 1495.53V1504.99M313.6 1495.53H321.27M313.6 1504.99H321.27M337.78 1470.82V1497.06M333.95 1470.82H341.62M333.95 1497.06H341.62M375.57 1482.72V1497.97M371.74 1482.72H379.4M371.74 1497.97H379.4M395.92 1408.58V1473.87M392.08 1408.58H399.75M392.08 1473.87H399.75M433.7 1494.92V1503.16M429.87 1494.92H437.54M429.87 1503.16H437.54M454.05 1500.72V1504.68M450.22 1500.72H457.88M450.22 1504.68H457.88M491.83 1485.16V1501.02M488 1485.16H495.67M488 1501.02H495.67M512.18 1476.92V1497.06M508.35 1476.92H516.01M508.35 1497.06H516.01M549.97 1504.38V1505.29M546.13 1504.38H553.8M546.13 1505.29H553.8M570.31 1503.16V1504.99M566.48 1503.16H574.15M566.48 1504.99H574.15M608.1 1497.67V1502.55M604.27 1497.67H611.93M604.27 1502.55H611.93M628.45 1502.24V1504.68M624.61 1502.24H632.28M624.61 1504.68H632.28M666.23 1501.02V1504.07M662.4 1501.02H670.07M662.4 1504.07H670.07M686.58 1503.77V1505.29M682.75 1503.77H690.41M682.75 1505.29H690.41M724.36 1501.94V1503.46M720.53 1501.94H728.2M720.53 1503.46H728.2M744.71 1502.24V1504.38M740.88 1502.24H748.54M740.88 1504.38H748.54M782.5 1497.06V1500.11M778.66 1497.06H786.33M778.66 1500.11H786.33M802.84 1494.62V1499.19M799.01 1494.62H806.68M799.01 1499.19H806.68M840.63 1487.91V1496.45M836.8 1487.91H844.46M836.8 1496.45H844.46M860.98 1497.67V1503.16M857.14 1497.67H864.81M857.14 1503.16H864.81M898.76 1501.94V1504.68M894.93 1501.94H902.6M894.93 1504.68H902.6M919.11 1504.99V1505.6M915.28 1504.99H922.94M915.28 1505.6H922.94M956.9 1476.01V1485.77M953.06 1476.01H960.73M953.06 1485.77H960.73M977.24 1481.8V1490.96M973.41 1481.8H981.08M973.41 1490.96H981.08M1015.03 1502.24V1503.77M1011.19 1502.24H1018.86M1011.19 1503.77H1018.86M1035.37 1499.5V1503.46M1031.54 1499.5H1039.21M1031.54 1503.46H1039.21M1073.16 1496.45V1504.99M1069.33 1496.45H1076.99M1069.33 1504.99H1076.99M1093.51 1486.38V1497.97M1089.67 1486.38H1097.34M1089.67 1497.97H1097.34M1131.29 1490.96V1497.36M1127.46 1490.96H1135.13M1127.46 1497.36H1135.13M1151.64 1486.38V1496.45M1147.81 1486.38H1155.47M1147.81 1496.45H1155.47M1189.43 1504.38V1505.6M1185.59 1504.38H1193.26M1185.59 1505.6H1193.26M1209.77 1497.67V1503.16M1205.94 1497.67H1213.61M1205.94 1503.16H1213.61M1247.56 1499.8V1503.16M1243.73 1499.8H1251.39M1243.73 1503.16H1251.39M1267.9 1481.8V1498.58M1264.07 1481.8H1271.74M1264.07 1498.58H1271.74M1305.69 1496.75V1504.68M1301.86 1496.75H1309.52M1301.86 1504.68H1309.52M1326.04 1499.8V1506.52M1322.2 1499.8H1329.87M1322.2 1506.52H1329.87M1363.82 1475.4V1488.21M1359.99 1475.4H1367.66M1359.99 1488.21H1367.66M1384.17 1454.96V1477.84M1380.34 1454.96H1388M1380.34 1477.84H1388M1421.96 1486.68V1503.16M1418.12 1486.68H1425.79M1418.12 1503.16H1425.79M1442.3 1492.48V1505.91M1438.47 1492.48H1446.14M1438.47 1505.91H1446.14M1480.09 1504.99V1505.6M1476.26 1504.99H1483.92M1476.26 1505.6H1483.92M1500.44 1505.29V1505.6M1496.6 1505.29H1504.27M1496.6 1505.6H1504.27M1538.22 1499.5V1505.6M1534.39 1499.5H1542.05M1534.39 1505.6H1542.05M1558.57 1504.68V1505.6M1554.73 1504.68H1562.4M1554.73 1505.6H1562.4M1596.35 1492.93V1504.23M1592.52 1492.93H1600.19M1592.52 1504.23H1600.19M1616.7 1493.96V1504.92M1612.87 1493.96H1620.53M1612.87 1504.92H1620.53M1654.49 1499.44V1504.23M1650.65 1499.44H1658.32M1650.65 1504.23H1658.32M1674.83 1489.85V1504.92M1671 1489.85H1678.67M1671 1504.92H1678.67M1712.62 1483V1492.59M1708.79 1483H1716.45M1708.79 1492.59H1716.45M1732.97 1486.43V1495.33M1729.13 1486.43H1736.8M1729.13 1495.33H1736.8M1770.75 1449.11V1491.22M1766.92 1449.11H1774.58M1766.92 1491.22H1774.58M1791.1 1445V1494.3M1787.26 1445H1794.93M1787.26 1494.3H1794.93M1828.88 1303.6V1374.13M1825.05 1303.6H1832.72M1825.05 1374.13H1832.72M1849.23 1299.49V1374.13M1845.4 1299.49H1853.06M1845.4 1374.13H1853.06M1887.02 1441.92V1471.02M1883.18 1441.92H1890.85M1883.18 1471.02H1890.85M1907.36 1482.32V1492.93M1903.53 1482.32H1911.2M1903.53 1492.93H1911.2M1945.15 1502.18V1504.23M1941.32 1502.18H1948.98M1941.32 1504.23H1948.98M1965.5 1483V1502.52M1961.66 1483H1969.33M1961.66 1502.52H1969.33M2003.28 1464.17V1475.47M1999.45 1464.17H2007.12M1999.45 1475.47H2007.12M2023.63 1477.87V1486.77M2019.8 1477.87H2027.46M2019.8 1486.77H2027.46M2061.41 1479.24V1494.3M2057.58 1479.24H2065.25M2057.58 1494.3H2065.25M2081.76 1475.13V1489.85M2077.93 1475.13H2085.59M2077.93 1489.85H2085.59M2119.55 1503.2V1505.6M2115.71 1503.2H2123.38M2115.71 1505.6H2123.38M2139.89 1499.44V1503.55M2136.06 1499.44H2143.73M2136.06 1503.55H2143.73" stroke="#000" stroke-width="2" fill="none"/>
<g font-size="16.4" stroke="#000" stroke-width="0.3"><text transform="translate(84.01 1379.49) rotate(-90)" dy="0.355em">8058</text><text transform="translate(104.35 1398.41) rotate(-90)" dy="0.355em">6285</text><text transform="translate(142.14 1419.76) rotate(-90)" dy="0.355em">4863</text><text transform="translate(162.49 1460.34) rotate(-90)" dy="0.355em">1708</text><text transform="translate(200.27 1383.15) rotate(-90)" dy="0.355em">2595</text><text transform="translate(220.62 1400.85) rotate(-90)" dy="0.355em">3408</text><text transform="translate(258.4 1487.79) rotate(-90)" dy="0.355em">759</text><text transform="translate(278.75 1491.76) rotate(-90)" dy="0.355em">103</text><text transform="translate(316.54 1487.79) rotate(-90)" dy="0.355em">54</text><text transform="translate(336.88 1463.39) rotate(-90)" dy="0.355em">560</text><text transform="translate(374.67 1475.59) rotate(-90)" dy="0.355em">244</text><text transform="translate(395.02 1391.08) rotate(-90)" dy="0.355em">1119</text><text transform="translate(432.8 1487.79) rotate(-90)" dy="0.355em">602</text><text transform="translate(453.15 1492.37) rotate(-90)" dy="0.355em">75</text><text transform="translate(490.93 1474.68) rotate(-90)" dy="0.355em">1138</text><text transform="translate(511.28 1469.49) rotate(-90)" dy="0.355em">2360</text><text transform="translate(549.07 1495.42) rotate(-90)" dy="0.355em">74</text><text transform="translate(569.41 1494.81) rotate(-90)" dy="0.355em">96</text><text transform="translate(607.2 1489.32) rotate(-90)" dy="0.355em">370</text><text transform="translate(627.55 1493.9) rotate(-90)" dy="0.355em">76</text><text transform="translate(665.33 1493.9) rotate(-90)" dy="0.355em">203</text><text transform="translate(685.68 1496.03) rotate(-90)" dy="0.355em">71</text><text transform="translate(723.46 1493.9) rotate(-90)" dy="0.355em">166</text><text transform="translate(743.81 1493.9) rotate(-90)" dy="0.355em">142</text><text transform="translate(781.6 1489.32) rotate(-90)" dy="0.355em">386</text><text transform="translate(801.94 1487.79) rotate(-90)" dy="0.355em">437</text><text transform="translate(839.73 1480.17) rotate(-90)" dy="0.355em">939</text><text transform="translate(860.08 1489.93) rotate(-90)" dy="0.355em">596</text><text transform="translate(897.86 1493.9) rotate(-90)" dy="0.355em">166</text><text transform="translate(918.21 1496.95) rotate(-90)" dy="0.355em">34</text><text transform="translate(956 1466.44) rotate(-90)" dy="0.355em">1641</text><text transform="translate(976.34 1474.07) rotate(-90)" dy="0.355em">987</text><text transform="translate(1014.13 1493.9) rotate(-90)" dy="0.355em">187</text><text transform="translate(1034.47 1492.37) rotate(-90)" dy="0.355em">173</text><text transform="translate(1072.26 1488.71) rotate(-90)" dy="0.355em">54</text><text transform="translate(1092.61 1478.64) rotate(-90)" dy="0.355em">224</text><text transform="translate(1130.39 1481.69) rotate(-90)" dy="0.355em">769</text><text transform="translate(1150.74 1478.64) rotate(-90)" dy="0.355em">512</text><text transform="translate(1188.53 1496.34) rotate(-90)" dy="0.355em">58</text><text transform="translate(1208.87 1487.79) rotate(-90)" dy="0.355em">159</text><text transform="translate(1246.66 1491.76) rotate(-90)" dy="0.355em">223</text><text transform="translate(1267 1473.46) rotate(-90)" dy="0.355em">564</text><text transform="translate(1304.79 1488.71) rotate(-90)" dy="0.355em">365</text><text transform="translate(1325.14 1491.46) rotate(-90)" dy="0.355em">169</text><text transform="translate(1362.92 1466.44) rotate(-90)" dy="0.355em">1224</text><text transform="translate(1383.27 1445.08) rotate(-90)" dy="0.355em">1351</text><text transform="translate(1421.06 1479.56) rotate(-90)" dy="0.355em">677</text><text transform="translate(1441.4 1484.74) rotate(-90)" dy="0.355em">463</text><text transform="translate(1479.19 1496.95) rotate(-90)" dy="0.355em">10</text><text transform="translate(1499.54 1498.47) rotate(-90)" dy="0.355em">1</text><text transform="translate(1537.32 1491.76) rotate(-90)" dy="0.355em">331</text><text transform="translate(1557.67 1496.95) rotate(-90)" dy="0.355em">9</text><text transform="translate(1595.45 1485.56) rotate(-90)" dy="0.355em">296</text><text transform="translate(1615.8 1485.56) rotate(-90)" dy="0.355em">73</text><text transform="translate(1653.59 1489.67) rotate(-90)" dy="0.355em">191</text><text transform="translate(1673.93 1482.13) rotate(-90)" dy="0.355em">506</text><text transform="translate(1711.72 1475.29) rotate(-90)" dy="0.355em">748</text><text transform="translate(1732.07 1478.71) rotate(-90)" dy="0.355em">458</text><text transform="translate(1769.85 1440.02) rotate(-90)" dy="0.355em">1101</text><text transform="translate(1790.2 1436.6) rotate(-90)" dy="0.355em">1710</text><text transform="translate(1827.98 1417.77) rotate(-90)" dy="0.355em">8421</text><text transform="translate(1848.33 1417.77) rotate(-90)" dy="0.355em">8884</text><text transform="translate(1886.12 1434.2) rotate(-90)" dy="0.355em">4076</text><text transform="translate(1906.46 1467.41) rotate(-90)" dy="0.355em">859</text><text transform="translate(1944.25 1493.09) rotate(-90)" dy="0.355em">150</text><text transform="translate(1964.6 1474.26) rotate(-90)" dy="0.355em">158</text><text transform="translate(2002.38 1456.11) rotate(-90)" dy="0.355em">2112</text><text transform="translate(2022.73 1469.81) rotate(-90)" dy="0.355em">959</text><text transform="translate(2060.51 1471.52) rotate(-90)" dy="0.355em">525</text><text transform="translate(2080.86 1466.73) rotate(-90)" dy="0.355em">744</text><text transform="translate(2118.65 1495.83) rotate(-90)" dy="0.355em">25</text><text transform="translate(2138.99 1491.38) rotate(-90)" dy="0.355em">117</text></g>
<g font-size="16" font-weight="bold" text-anchor="middle"><text x="395.92" y="1412.38" fill="#1010D8" stroke="#1010D8" stroke-width="0.2">*</text><text x="1907.36" y="1486.12" fill="#E8101A" stroke="#E8101A" stroke-width="0.2">*</text></g>
<rect x="60.2" y="1286.8" width="2104.4" height="229.5" fill="none" stroke="#333333" stroke-width="2"/>
<path d="M56.6 1505.6H60.2M56.6 1429.7H60.2M56.6 1353.8H60.2M95.08 1516.3V1519.9M153.21 1516.3V1519.9M211.34 1516.3V1519.9M269.48 1516.3V1519.9M327.61 1516.3V1519.9M385.74 1516.3V1519.9M443.88 1516.3V1519.9M502.01 1516.3V1519.9M560.14 1516.3V1519.9M618.27 1516.3V1519.9M676.41 1516.3V1519.9M734.54 1516.3V1519.9M792.67 1516.3V1519.9M850.8 1516.3V1519.9M908.94 1516.3V1519.9M967.07 1516.3V1519.9M1025.2 1516.3V1519.9M1083.33 1516.3V1519.9M1141.47 1516.3V1519.9M1199.6 1516.3V1519.9M1257.73 1516.3V1519.9M1315.86 1516.3V1519.9M1374 1516.3V1519.9M1432.13 1516.3V1519.9M1490.26 1516.3V1519.9M1548.39 1516.3V1519.9M1606.53 1516.3V1519.9M1664.66 1516.3V1519.9M1722.79 1516.3V1519.9M1780.92 1516.3V1519.9M1839.06 1516.3V1519.9M1897.19 1516.3V1519.9M1955.32 1516.3V1519.9M2013.46 1516.3V1519.9M2071.59 1516.3V1519.9M2129.72 1516.3V1519.9" stroke="#333333" stroke-width="2" fill="none"/>
<g font-size="20" text-anchor="end" stroke="#000" stroke-width="0.3"><text transform="translate(52.5 1511.2) scale(1 1.08)">0</text><text transform="translate(52.5 1435.3) scale(1 1.08)">10</text><text transform="translate(52.5 1359.4) scale(1 1.08)">20</text></g>
<text transform="translate(16.4 1401.55) rotate(-90)" text-anchor="middle" font-size="20" stroke="#000" stroke-width="0.3">Percent of sample</text>
<g font-size="20" text-anchor="end" stroke="#000" stroke-width="0.3"><text transform="translate(90.48 1521.3) rotate(-55)"><tspan x="0" y="14.5">B cells</tspan></text><text transform="translate(136.41 1521.3) rotate(-55)"><tspan x="0" y="14.5">CCR7−hi</tspan><tspan x="0" y="38">CD4 T cells</tspan></text><text transform="translate(206.74 1521.3) rotate(-55)"><tspan x="0" y="14.5">CD4 T cells</tspan></text><text transform="translate(252.68 1521.3) rotate(-55)"><tspan x="0" y="14.5">CD63+CD81+</tspan><tspan x="0" y="38">macrophage</tspan></text><text transform="translate(323.01 1521.3) rotate(-55)"><tspan x="0" y="14.5">CD69+ CD4 T cells</tspan></text><text transform="translate(368.94 1521.3) rotate(-55)"><tspan x="0" y="14.5">CD8 intraepithelial</tspan><tspan x="0" y="38">cells</tspan></text><text transform="translate(427.08 1521.3) rotate(-55)"><tspan x="0" y="14.5">CXCR6−hi</tspan><tspan x="0" y="38">CD4 T cells</tspan></text><text transform="translate(497.41 1521.3) rotate(-55)"><tspan x="0" y="14.5">Cycling B cells</tspan></text><text transform="translate(555.54 1521.3) rotate(-55)"><tspan x="0" y="14.5">Cycling myeloid</tspan></text><text transform="translate(613.67 1521.3) rotate(-55)"><tspan x="0" y="14.5">Cycling T cells</tspan></text><text transform="translate(659.61 1521.3) rotate(-55)"><tspan x="0" y="14.5">Dendritic cell −</tspan><tspan x="0" y="38">CCR7−hi</tspan></text><text transform="translate(729.94 1521.3) rotate(-55)"><tspan x="0" y="14.5">Dendritic cell − cDC1</tspan></text><text transform="translate(788.07 1521.3) rotate(-55)"><tspan x="0" y="14.5">Dendritic cell − cDC2</tspan></text><text transform="translate(834 1521.3) rotate(-55)"><tspan x="0" y="14.5">Follicular helper</tspan><tspan x="0" y="38">T cells</tspan></text><text transform="translate(904.34 1521.3) rotate(-55)"><tspan x="0" y="14.5">GZMB−hi pDC</tspan></text><text transform="translate(950.27 1521.3) rotate(-55)"><tspan x="0" y="14.5">GZMK−hi CD8</tspan><tspan x="0" y="38">T cells</tspan></text><text transform="translate(1020.6 1521.3) rotate(-55)"><tspan x="0" y="14.5">ILCs</tspan></text><text transform="translate(1078.73 1521.3) rotate(-55)"><tspan x="0" y="14.5">Intraepithelial Tgd</tspan></text><text transform="translate(1124.67 1521.3) rotate(-55)"><tspan x="0" y="14.5">LP−associated</tspan><tspan x="0" y="38">NK−Tgd</tspan></text><text transform="translate(1195 1521.3) rotate(-55)"><tspan x="0" y="14.5">Lyve1 macrophage</tspan></text><text transform="translate(1253.13 1521.3) rotate(-55)"><tspan x="0" y="14.5">M2−like macrophage</tspan></text><text transform="translate(1299.06 1521.3) rotate(-55)"><tspan x="0" y="14.5">M2−like macrophage</tspan><tspan x="0" y="38">−A2M−hi</tspan></text><text transform="translate(1369.4 1521.3) rotate(-55)"><tspan x="0" y="14.5">Mast cells</tspan></text><text transform="translate(1427.53 1521.3) rotate(-55)"><tspan x="0" y="14.5">Monocyte</tspan></text><text transform="translate(1473.46 1521.3) rotate(-55)"><tspan x="0" y="14.5">Monocyte−</tspan><tspan x="0" y="38">CCL3−4−hi</tspan></text><text transform="translate(1543.79 1521.3) rotate(-55)"><tspan x="0" y="14.5">Monocyte−FPR1−hi</tspan></text><text transform="translate(1601.93 1521.3) rotate(-55)"><tspan x="0" y="14.5">Monocyte−HSP−hi</tspan></text><text transform="translate(1660.06 1521.3) rotate(-55)"><tspan x="0" y="14.5">Monocyte−IL1B−hi</tspan></text><text transform="translate(1705.99 1521.3) rotate(-55)"><tspan x="0" y="14.5">NAMPT−hi</tspan><tspan x="0" y="38">neutrophils</tspan></text><text transform="translate(1776.32 1521.3) rotate(-55)"><tspan x="0" y="14.5">Neutrophils</tspan></text><text transform="translate(1834.46 1521.3) rotate(-55)"><tspan x="0" y="14.5">Plasma cells−IgA</tspan></text><text transform="translate(1892.59 1521.3) rotate(-55)"><tspan x="0" y="14.5">Plasma cells−IgG</tspan></text><text transform="translate(1950.72 1521.3) rotate(-55)"><tspan x="0" y="14.5">PLGC2−hi T cells</tspan></text><text transform="translate(2008.86 1521.3) rotate(-55)"><tspan x="0" y="14.5">Regulatory T cells</tspan></text><text transform="translate(2066.99 1521.3) rotate(-55)"><tspan x="0" y="14.5">Tissue macrophage</tspan></text><text transform="translate(2112.92 1521.3) rotate(-55)"><tspan x="0" y="14.5">Tissue macrophage−</tspan><tspan x="0" y="38">KRT−hi</tspan></text></g>
<text x="60.1" y="1717.8" font-size="20" stroke="#000" stroke-width="0.3">Epithelial fraction immune cells</text>
<g><rect x="75.58" y="1912.68" width="21.54" height="31.42" fill="#D86088"/><rect x="97.12" y="1920.3" width="21.54" height="23.8" fill="#6389DA"/><rect x="137.12" y="1922.13" width="21.54" height="21.97" fill="#D86088"/><rect x="158.65" y="1937.39" width="21.54" height="6.71" fill="#6389DA"/><rect x="198.65" y="1943.79" width="21.54" height="0.31" fill="#D86088"/><rect x="220.18" y="1939.22" width="21.54" height="4.88" fill="#6389DA"/><rect x="260.18" y="1941.05" width="21.54" height="3.05" fill="#D86088"/><rect x="383.24" y="1817.49" width="21.54" height="126.61" fill="#D86088"/><rect x="404.78" y="1768.37" width="21.54" height="175.73" fill="#6389DA"/><rect x="444.78" y="1937.08" width="21.54" height="7.02" fill="#D86088"/><rect x="466.31" y="1940.74" width="21.54" height="3.36" fill="#6389DA"/><rect x="506.31" y="1930.37" width="21.54" height="13.73" fill="#D86088"/><rect x="527.84" y="1933.12" width="21.54" height="10.98" fill="#6389DA"/><rect x="629.37" y="1933.73" width="21.54" height="10.37" fill="#D86088"/><rect x="650.91" y="1942.27" width="21.54" height="1.83" fill="#6389DA"/><rect x="690.9" y="1941.66" width="21.54" height="2.44" fill="#D86088"/><rect x="712.44" y="1942.88" width="21.54" height="1.22" fill="#6389DA"/><rect x="752.44" y="1942.57" width="21.54" height="1.53" fill="#D86088"/><rect x="813.97" y="1931.29" width="21.54" height="12.81" fill="#D86088"/><rect x="835.51" y="1941.66" width="21.54" height="2.44" fill="#6389DA"/><rect x="875.5" y="1937.69" width="21.54" height="6.41" fill="#D86088"/><rect x="897.04" y="1941.66" width="21.54" height="2.44" fill="#6389DA"/><rect x="937.03" y="1943.49" width="21.54" height="0.61" fill="#D86088"/><rect x="998.57" y="1940.44" width="21.54" height="3.66" fill="#D86088"/><rect x="1020.1" y="1942.88" width="21.54" height="1.22" fill="#6389DA"/><rect x="1060.1" y="1943.79" width="21.54" height="0.31" fill="#D86088"/><rect x="1121.63" y="1923.35" width="21.54" height="20.75" fill="#D86088"/><rect x="1143.17" y="1904.13" width="21.54" height="39.97" fill="#6389DA"/><rect x="1183.16" y="1937.69" width="21.54" height="6.41" fill="#D86088"/><rect x="1204.7" y="1935.56" width="21.54" height="8.54" fill="#6389DA"/><rect x="1266.23" y="1943.49" width="21.54" height="0.61" fill="#6389DA"/><rect x="1327.76" y="1943.49" width="21.54" height="0.61" fill="#6389DA"/><rect x="1367.76" y="1942.57" width="21.54" height="1.53" fill="#D86088"/><rect x="1389.29" y="1943.18" width="21.54" height="0.92" fill="#6389DA"/><rect x="1429.29" y="1935.25" width="21.54" height="8.85" fill="#D86088"/><rect x="1450.83" y="1939.52" width="21.54" height="4.58" fill="#6389DA"/><rect x="1552.35" y="1943.42" width="21.54" height="0.68" fill="#D86088"/><rect x="1613.89" y="1942.39" width="21.54" height="1.71" fill="#D86088"/><rect x="1635.42" y="1943.07" width="21.54" height="1.03" fill="#6389DA"/><rect x="1675.42" y="1939.31" width="21.54" height="4.79" fill="#D86088"/><rect x="1696.96" y="1942.73" width="21.54" height="1.37" fill="#6389DA"/><rect x="1736.95" y="1921.16" width="21.54" height="22.94" fill="#D86088"/><rect x="1758.49" y="1925.27" width="21.54" height="18.83" fill="#6389DA"/><rect x="1798.48" y="1919.11" width="21.54" height="24.99" fill="#D86088"/><rect x="1820.02" y="1934.51" width="21.54" height="9.59" fill="#6389DA"/><rect x="1860.02" y="1931.09" width="21.54" height="13.01" fill="#D86088"/><rect x="1881.55" y="1943.07" width="21.54" height="1.03" fill="#6389DA"/><rect x="1921.55" y="1936.23" width="21.54" height="7.87" fill="#D86088"/><rect x="1943.08" y="1913.29" width="21.54" height="30.81" fill="#6389DA"/><rect x="1983.08" y="1937.25" width="21.54" height="6.85" fill="#D86088"/><rect x="2004.62" y="1939.65" width="21.54" height="4.45" fill="#6389DA"/><rect x="2044.61" y="1931.09" width="21.54" height="13.01" fill="#D86088"/><rect x="2066.15" y="1919.79" width="21.54" height="24.31" fill="#6389DA"/><rect x="2106.14" y="1938.62" width="21.54" height="5.48" fill="#D86088"/><rect x="2127.68" y="1942.39" width="21.54" height="1.71" fill="#6389DA"/></g>
<path d="M86.35 1902V1923.35M82.31 1902H90.4M82.31 1923.35H90.4M107.89 1907.18V1933.12M103.84 1907.18H111.93M103.84 1933.12H111.93M147.88 1909.93V1934.03M143.84 1909.93H151.93M143.84 1934.03H151.93M169.42 1933.73V1940.74M165.37 1933.73H173.47M165.37 1940.74H173.47M209.42 1943.49V1944.1M205.37 1943.49H213.46M205.37 1944.1H213.46M230.95 1934.03V1944.1M226.91 1934.03H235M226.91 1944.1H235M270.95 1939.52V1942.88M266.9 1939.52H274.99M266.9 1942.88H274.99M292.48 1943.49V1944.1M288.44 1943.49H296.53M288.44 1944.1H296.53M332.48 1943.49V1944.1M328.43 1943.49H336.53M328.43 1944.1H336.53M354.02 1943.49V1944.1M349.97 1943.49H358.06M349.97 1944.1H358.06M394.01 1785.46V1849.83M389.97 1785.46H398.06M389.97 1849.83H398.06M415.55 1736.64V1800.1M411.5 1736.64H419.59M411.5 1800.1H419.59M455.54 1932.51V1941.66M451.5 1932.51H459.59M451.5 1941.66H459.59M477.08 1939.22V1942.27M473.03 1939.22H481.13M473.03 1942.27H481.13M517.08 1921.83V1938.61M513.03 1921.83H521.12M513.03 1938.61H521.12M538.61 1923.35V1943.18M534.57 1923.35H542.66M534.57 1943.18H542.66M578.61 1943.49V1944.1M574.56 1943.49H582.65M574.56 1944.1H582.65M600.14 1943.49V1944.1M596.1 1943.49H604.19M596.1 1944.1H604.19M640.14 1928.85V1938M636.09 1928.85H644.19M636.09 1938H644.19M661.68 1941.66V1943.18M657.63 1941.66H665.72M657.63 1943.18H665.72M701.67 1940.13V1943.18M697.63 1940.13H705.72M697.63 1943.18H705.72M723.21 1942.27V1943.79M719.16 1942.27H727.25M719.16 1943.79H727.25M763.2 1941.35V1943.49M759.16 1941.35H767.25M759.16 1943.49H767.25M784.74 1943.49V1944.1M780.7 1943.49H788.79M780.7 1944.1H788.79M824.74 1924.27V1937.69M820.69 1924.27H828.78M820.69 1937.69H828.78M846.27 1940.44V1942.88M842.23 1940.44H850.32M842.23 1942.88H850.32M886.27 1934.64V1940.74M882.22 1934.64H890.32M882.22 1940.74H890.32M907.81 1939.52V1943.18M903.76 1939.52H911.85M903.76 1943.18H911.85M947.8 1943.18V1943.79M943.76 1943.18H951.85M943.76 1943.79H951.85M969.34 1943.49V1944.1M965.29 1943.49H973.38M965.29 1944.1H973.38M1009.33 1938.61V1942.27M1005.29 1938.61H1013.38M1005.29 1942.27H1013.38M1030.87 1942.27V1943.49M1026.82 1942.27H1034.92M1026.82 1943.49H1034.92M1070.87 1943.49V1944.1M1066.82 1943.49H1074.91M1066.82 1944.1H1074.91M1092.4 1943.49V1944.1M1088.36 1943.49H1096.45M1088.36 1944.1H1096.45M1132.4 1916.34V1930.07M1128.35 1916.34H1136.44M1128.35 1930.07H1136.44M1153.93 1893.46V1914.51M1149.89 1893.46H1157.98M1149.89 1914.51H1157.98M1193.93 1934.95V1940.13M1189.88 1934.95H1197.98M1189.88 1940.13H1197.98M1215.47 1931.9V1938.91M1211.42 1931.9H1219.51M1211.42 1938.91H1219.51M1255.46 1943.49V1944.1M1251.42 1943.49H1259.51M1251.42 1944.1H1259.51M1277 1943.18V1944.1M1272.95 1943.18H1281.04M1272.95 1944.1H1281.04M1316.99 1943.49V1944.1M1312.95 1943.49H1321.04M1312.95 1944.1H1321.04M1338.53 1943.18V1944.1M1334.48 1943.18H1342.58M1334.48 1944.1H1342.58M1378.53 1941.05V1943.79M1374.48 1941.05H1382.57M1374.48 1943.79H1382.57M1400.06 1942.57V1943.79M1396.02 1942.57H1404.11M1396.02 1943.79H1404.11M1440.06 1929.46V1941.66M1436.01 1929.46H1444.1M1436.01 1941.66H1444.1M1461.6 1934.03V1944.71M1457.55 1934.03H1465.64M1457.55 1944.71H1465.64M1501.59 1943.49V1944.1M1497.55 1943.49H1505.64M1497.55 1944.1H1505.64M1523.13 1943.49V1944.1M1519.08 1943.49H1527.17M1519.08 1944.1H1527.17M1563.12 1943.07V1944.1M1559.08 1943.07H1567.17M1559.08 1944.1H1567.17M1584.66 1943.42V1944.1M1580.61 1943.42H1588.71M1580.61 1944.1H1588.71M1624.66 1940.68V1944.1M1620.61 1940.68H1628.7M1620.61 1944.1H1628.7M1646.19 1942.05V1944.1M1642.15 1942.05H1650.24M1642.15 1944.1H1650.24M1686.19 1937.25V1941.36M1682.14 1937.25H1690.23M1682.14 1941.36H1690.23M1707.72 1941.36V1943.76M1703.68 1941.36H1711.77M1703.68 1943.76H1711.77M1747.72 1905.41V1936.57M1743.67 1905.41H1751.77M1743.67 1936.57H1751.77M1769.26 1906.44V1944.1M1765.21 1906.44H1773.3M1765.21 1944.1H1773.3M1809.25 1901.65V1936.23M1805.21 1901.65H1813.3M1805.21 1936.23H1813.3M1830.79 1930.75V1938.62M1826.74 1930.75H1834.83M1826.74 1938.62H1834.83M1870.78 1924.24V1937.25M1866.74 1924.24H1874.83M1866.74 1937.25H1874.83M1892.32 1942.73V1943.76M1888.27 1942.73H1896.37M1888.27 1943.76H1896.37M1932.32 1932.8V1939.65M1928.27 1932.8H1936.36M1928.27 1939.65H1936.36M1953.85 1886.92V1939.65M1949.81 1886.92H1957.9M1949.81 1939.65H1957.9M1993.85 1933.83V1940.68M1989.8 1933.83H1997.89M1989.8 1940.68H1997.89M2015.38 1937.94V1942.05M2011.34 1937.94H2019.43M2011.34 1942.05H2019.43M2055.38 1928.01V1933.83M2051.33 1928.01H2059.43M2051.33 1933.83H2059.43M2076.92 1908.49V1931.09M2072.87 1908.49H2080.96M2072.87 1931.09H2080.96M2116.91 1935.54V1941.36M2112.87 1935.54H2120.96M2112.87 1941.36H2120.96M2138.45 1940.68V1944.1M2134.4 1940.68H2142.49M2134.4 1944.1H2142.49" stroke="#000" stroke-width="2" fill="none"/>
<g font-size="16.4" stroke="#000" stroke-width="0.3"><text transform="translate(85.45 1893.35) rotate(-90)" dy="0.355em">1487</text><text transform="translate(106.99 1900.36) rotate(-90)" dy="0.355em">553</text><text transform="translate(146.98 1901.58) rotate(-90)" dy="0.355em">1850</text><text transform="translate(168.52 1923.85) rotate(-90)" dy="0.355em">104</text><text transform="translate(208.52 1936.06) rotate(-90)" dy="0.355em">24</text><text transform="translate(230.05 1923.85) rotate(-90)" dy="0.355em">11</text><text transform="translate(270.05 1929.04) rotate(-90)" dy="0.355em">113</text><text transform="translate(291.58 1936.06) rotate(-90)" dy="0.355em">1</text><text transform="translate(331.58 1936.06) rotate(-90)" dy="0.355em">1</text><text transform="translate(353.12 1936.06) rotate(-90)" dy="0.355em">5</text><text transform="translate(393.11 1775.28) rotate(-90)" dy="0.355em">1058</text><text transform="translate(414.65 1842.4) rotate(-90)" dy="0.355em">1467</text><text transform="translate(454.64 1924.77) rotate(-90)" dy="0.355em">224</text><text transform="translate(476.18 1931.48) rotate(-90)" dy="0.355em">31</text><text transform="translate(516.18 1914.7) rotate(-90)" dy="0.355em">617</text><text transform="translate(537.71 1916.23) rotate(-90)" dy="0.355em">401</text><text transform="translate(577.71 1936.06) rotate(-90)" dy="0.355em">1</text><text transform="translate(599.24 1936.06) rotate(-90)" dy="0.355em">2</text><text transform="translate(639.24 1919.28) rotate(-90)" dy="0.355em">118</text><text transform="translate(660.78 1933.01) rotate(-90)" dy="0.355em">23</text><text transform="translate(700.77 1931.48) rotate(-90)" dy="0.355em">85</text><text transform="translate(722.31 1933.01) rotate(-90)" dy="0.355em">7</text><text transform="translate(762.3 1932.09) rotate(-90)" dy="0.355em">18</text><text transform="translate(783.84 1936.06) rotate(-90)" dy="0.355em">1</text><text transform="translate(823.84 1916.23) rotate(-90)" dy="0.355em">69</text><text transform="translate(845.37 1932.09) rotate(-90)" dy="0.355em">36</text><text transform="translate(885.37 1926.91) rotate(-90)" dy="0.355em">470</text><text transform="translate(906.91 1931.48) rotate(-90)" dy="0.355em">83</text><text transform="translate(946.9 1935.45) rotate(-90)" dy="0.355em">50</text><text transform="translate(968.44 1936.06) rotate(-90)" dy="0.355em">3</text><text transform="translate(1008.43 1929.96) rotate(-90)" dy="0.355em">250</text><text transform="translate(1029.97 1933.92) rotate(-90)" dy="0.355em">23</text><text transform="translate(1069.97 1935.45) rotate(-90)" dy="0.355em">21</text><text transform="translate(1091.5 1936.06) rotate(-90)" dy="0.355em">3</text><text transform="translate(1131.5 1907.68) rotate(-90)" dy="0.355em">244</text><text transform="translate(1153.03 1885.11) rotate(-90)" dy="0.355em">308</text><text transform="translate(1193.03 1926.91) rotate(-90)" dy="0.355em">251</text><text transform="translate(1214.57 1923.85) rotate(-90)" dy="0.355em">44</text><text transform="translate(1254.56 1936.06) rotate(-90)" dy="0.355em">0</text><text transform="translate(1276.1 1935.45) rotate(-90)" dy="0.355em">2</text><text transform="translate(1316.09 1936.06) rotate(-90)" dy="0.355em">0</text><text transform="translate(1337.63 1935.45) rotate(-90)" dy="0.355em">2</text><text transform="translate(1377.63 1931.48) rotate(-90)" dy="0.355em">17</text><text transform="translate(1399.16 1933.92) rotate(-90)" dy="0.355em">6</text><text transform="translate(1439.16 1919.28) rotate(-90)" dy="0.355em">171</text><text transform="translate(1460.7 1925.38) rotate(-90)" dy="0.355em">89</text><text transform="translate(1500.69 1936.06) rotate(-90)" dy="0.355em">0</text><text transform="translate(1522.23 1936.06) rotate(-90)" dy="0.355em">1</text><text transform="translate(1562.22 1936.04) rotate(-90)" dy="0.355em">4</text><text transform="translate(1583.76 1936.04) rotate(-90)" dy="0.355em">2</text><text transform="translate(1623.76 1932.27) rotate(-90)" dy="0.355em">46</text><text transform="translate(1645.29 1932.27) rotate(-90)" dy="0.355em">13</text><text transform="translate(1685.29 1928.85) rotate(-90)" dy="0.355em">82</text><text transform="translate(1706.82 1933.99) rotate(-90)" dy="0.355em">18</text><text transform="translate(1746.82 1895.64) rotate(-90)" dy="0.355em">160</text><text transform="translate(1768.36 1898.04) rotate(-90)" dy="0.355em">327</text><text transform="translate(1808.35 1893.93) rotate(-90)" dy="0.355em">266</text><text transform="translate(1829.89 1923.03) rotate(-90)" dy="0.355em">39</text><text transform="translate(1869.88 1916.18) rotate(-90)" dy="0.355em">573</text><text transform="translate(1891.42 1935.01) rotate(-90)" dy="0.355em">20</text><text transform="translate(1931.42 1925.77) rotate(-90)" dy="0.355em">61</text><text transform="translate(1952.95 1876.81) rotate(-90)" dy="0.355em">114</text><text transform="translate(1992.95 1925.77) rotate(-90)" dy="0.355em">340</text><text transform="translate(2014.48 1929.88) rotate(-90)" dy="0.355em">49</text><text transform="translate(2054.48 1918.92) rotate(-90)" dy="0.355em">126</text><text transform="translate(2076.02 1900.78) rotate(-90)" dy="0.355em">94</text><text transform="translate(2116.01 1927.48) rotate(-90)" dy="0.355em">20</text><text transform="translate(2137.55 1931.59) rotate(-90)" dy="0.355em">10</text></g>
<g font-size="16" font-weight="bold" text-anchor="middle"><text x="415.55" y="1740.44" fill="#1010D8" stroke="#1010D8" stroke-width="0.2">*</text></g>
<rect x="60.2" y="1724.5" width="2104.4" height="229.7" fill="none" stroke="#333333" stroke-width="2"/>
<path d="M56.6 1944.1H60.2M56.6 1866.7H60.2M56.6 1789.3H60.2M97.12 1954.2V1957.8M158.65 1954.2V1957.8M220.18 1954.2V1957.8M281.72 1954.2V1957.8M343.25 1954.2V1957.8M404.78 1954.2V1957.8M466.31 1954.2V1957.8M527.84 1954.2V1957.8M589.38 1954.2V1957.8M650.91 1954.2V1957.8M712.44 1954.2V1957.8M773.97 1954.2V1957.8M835.51 1954.2V1957.8M897.04 1954.2V1957.8M958.57 1954.2V1957.8M1020.1 1954.2V1957.8M1081.63 1954.2V1957.8M1143.17 1954.2V1957.8M1204.7 1954.2V1957.8M1266.23 1954.2V1957.8M1327.76 1954.2V1957.8M1389.29 1954.2V1957.8M1450.83 1954.2V1957.8M1512.36 1954.2V1957.8M1573.89 1954.2V1957.8M1635.42 1954.2V1957.8M1696.96 1954.2V1957.8M1758.49 1954.2V1957.8M1820.02 1954.2V1957.8M1881.55 1954.2V1957.8M1943.08 1954.2V1957.8M2004.62 1954.2V1957.8M2066.15 1954.2V1957.8M2127.68 1954.2V1957.8" stroke="#333333" stroke-width="2" fill="none"/>
<g font-size="20" text-anchor="end" stroke="#000" stroke-width="0.3"><text transform="translate(52.5 1949.7) scale(1 1.08)">0</text><text transform="translate(52.5 1872.3) scale(1 1.08)">20</text><text transform="translate(52.5 1794.9) scale(1 1.08)">40</text></g>
<text transform="translate(16.4 1839.35) rotate(-90)" text-anchor="middle" font-size="20" stroke="#000" stroke-width="0.3">Percent of sample</text>
<g font-size="20" text-anchor="end" stroke="#000" stroke-width="0.3"><text transform="translate(92.52 1959.2) rotate(-55)"><tspan x="0" y="14.5">B cells</tspan></text><text transform="translate(141.85 1959.2) rotate(-55)"><tspan x="0" y="14.5">CCR7−hi</tspan><tspan x="0" y="38">CD4 T cells</tspan></text><text transform="translate(215.58 1959.2) rotate(-55)"><tspan x="0" y="14.5">CD4 T cells</tspan></text><text transform="translate(264.92 1959.2) rotate(-55)"><tspan x="0" y="14.5">CD63+CD81+</tspan><tspan x="0" y="38">macrophage</tspan></text><text transform="translate(338.65 1959.2) rotate(-55)"><tspan x="0" y="14.5">CD69+ CD4 T cells</tspan></text><text transform="translate(387.98 1959.2) rotate(-55)"><tspan x="0" y="14.5">CD8 intraepithelial</tspan><tspan x="0" y="38">cells</tspan></text><text transform="translate(449.51 1959.2) rotate(-55)"><tspan x="0" y="14.5">CXCR6−hi</tspan><tspan x="0" y="38">CD4 T cells</tspan></text><text transform="translate(523.24 1959.2) rotate(-55)"><tspan x="0" y="14.5">Cycling B cells</tspan></text><text transform="translate(584.78 1959.2) rotate(-55)"><tspan x="0" y="14.5">Cycling myeloid</tspan></text><text transform="translate(646.31 1959.2) rotate(-55)"><tspan x="0" y="14.5">Cycling T cells</tspan></text><text transform="translate(695.64 1959.2) rotate(-55)"><tspan x="0" y="14.5">Dendritic cell −</tspan><tspan x="0" y="38">CCR7−hi</tspan></text><text transform="translate(769.37 1959.2) rotate(-55)"><tspan x="0" y="14.5">Dendritic cell − cDC1</tspan></text><text transform="translate(830.91 1959.2) rotate(-55)"><tspan x="0" y="14.5">Dendritic cell − cDC2</tspan></text><text transform="translate(880.24 1959.2) rotate(-55)"><tspan x="0" y="14.5">Follicular helper</tspan><tspan x="0" y="38">T cells</tspan></text><text transform="translate(953.97 1959.2) rotate(-55)"><tspan x="0" y="14.5">GZMB−hi pDC</tspan></text><text transform="translate(1003.3 1959.2) rotate(-55)"><tspan x="0" y="14.5">GZMK−hi CD8</tspan><tspan x="0" y="38">T cells</tspan></text><text transform="translate(1077.03 1959.2) rotate(-55)"><tspan x="0" y="14.5">ILCs</tspan></text><text transform="translate(1138.57 1959.2) rotate(-55)"><tspan x="0" y="14.5">Intraepithelial Tgd</tspan></text><text transform="translate(1187.9 1959.2) rotate(-55)"><tspan x="0" y="14.5">LP−associated</tspan><tspan x="0" y="38">NK−Tgd</tspan></text><text transform="translate(1261.63 1959.2) rotate(-55)"><tspan x="0" y="14.5">Lyve1 macrophage</tspan></text><text transform="translate(1323.16 1959.2) rotate(-55)"><tspan x="0" y="14.5">M2−like macrophage</tspan></text><text transform="translate(1384.69 1959.2) rotate(-55)"><tspan x="0" y="14.5">Mast cells</tspan></text><text transform="translate(1446.23 1959.2) rotate(-55)"><tspan x="0" y="14.5">Monocyte</tspan></text><text transform="translate(1495.56 1959.2) rotate(-55)"><tspan x="0" y="14.5">Monocyte−</tspan><tspan x="0" y="38">CCL3−4−hi</tspan></text><text transform="translate(1569.29 1959.2) rotate(-55)"><tspan x="0" y="14.5">Monocyte−FPR1−hi</tspan></text><text transform="translate(1630.82 1959.2) rotate(-55)"><tspan x="0" y="14.5">Monocyte−HSP−hi</tspan></text><text transform="translate(1680.16 1959.2) rotate(-55)"><tspan x="0" y="14.5">NAMPT−hi</tspan><tspan x="0" y="38">neutrophils</tspan></text><text transform="translate(1753.89 1959.2) rotate(-55)"><tspan x="0" y="14.5">Neutrophils</tspan></text><text transform="translate(1815.42 1959.2) rotate(-55)"><tspan x="0" y="14.5">Plasma cells−IgA</tspan></text><text transform="translate(1876.95 1959.2) rotate(-55)"><tspan x="0" y="14.5">Plasma cells−IgG</tspan></text><text transform="translate(1938.48 1959.2) rotate(-55)"><tspan x="0" y="14.5">PLGC2−hi T cells</tspan></text><text transform="translate(2000.02 1959.2) rotate(-55)"><tspan x="0" y="14.5">Regulatory T cells</tspan></text><text transform="translate(2061.55 1959.2) rotate(-55)"><tspan x="0" y="14.5">Tissue macrophage</tspan></text><text transform="translate(2110.88 1959.2) rotate(-55)"><tspan x="0" y="14.5">Tissue macrophage−</tspan><tspan x="0" y="38">KRT−hi</tspan></text></g>
<text x="174.5" y="2155.6" font-size="20" stroke="#000" stroke-width="0.3">Stromal cells</text>
<g><rect x="187.36" y="2241.32" width="17.58" height="136.68" fill="#D86088"/><rect x="204.94" y="2249.25" width="17.58" height="128.75" fill="#6389DA"/><rect x="237.59" y="2364.88" width="17.58" height="13.12" fill="#D86088"/><rect x="255.17" y="2367.02" width="17.58" height="10.98" fill="#6389DA"/><rect x="287.81" y="2370.37" width="17.58" height="7.63" fill="#D86088"/><rect x="305.39" y="2371.29" width="17.58" height="6.71" fill="#6389DA"/><rect x="338.04" y="2377.39" width="17.58" height="0.61" fill="#D86088"/><rect x="388.27" y="2374.03" width="17.58" height="3.97" fill="#D86088"/><rect x="405.85" y="2372.81" width="17.58" height="5.19" fill="#6389DA"/><rect x="438.5" y="2236.44" width="17.58" height="141.56" fill="#D86088"/><rect x="456.08" y="2299.29" width="17.58" height="78.71" fill="#6389DA"/><rect x="488.73" y="2346.27" width="17.58" height="31.73" fill="#D86088"/><rect x="506.31" y="2313.32" width="17.58" height="64.68" fill="#6389DA"/><rect x="538.96" y="2342.61" width="17.58" height="35.39" fill="#D86088"/><rect x="556.54" y="2342.61" width="17.58" height="35.39" fill="#6389DA"/><rect x="589.18" y="2358.47" width="17.58" height="19.53" fill="#D86088"/><rect x="606.76" y="2363.97" width="17.58" height="14.03" fill="#6389DA"/><rect x="639.41" y="2353.29" width="17.58" height="24.71" fill="#D86088"/><rect x="656.99" y="2372.81" width="17.58" height="5.19" fill="#6389DA"/><rect x="689.64" y="2376.17" width="17.58" height="1.83" fill="#D86088"/><rect x="707.22" y="2374.95" width="17.58" height="3.05" fill="#6389DA"/><rect x="739.87" y="2322.17" width="17.58" height="55.83" fill="#D86088"/><rect x="757.45" y="2335.59" width="17.58" height="42.41" fill="#6389DA"/><rect x="790.1" y="2301.42" width="17.58" height="76.58" fill="#D86088"/><rect x="807.68" y="2210.81" width="17.58" height="167.19" fill="#6389DA"/><rect x="840.33" y="2283.42" width="17.58" height="94.58" fill="#D86088"/><rect x="857.91" y="2259.93" width="17.58" height="118.07" fill="#6389DA"/><rect x="890.55" y="2354.51" width="17.58" height="23.49" fill="#D86088"/><rect x="908.13" y="2357.86" width="17.58" height="20.14" fill="#6389DA"/><rect x="940.78" y="2306.61" width="17.58" height="71.39" fill="#D86088"/><rect x="958.36" y="2339.25" width="17.58" height="38.75" fill="#6389DA"/></g>
<path d="M196.15 2207.76V2274.88M192.81 2207.76H199.49M192.81 2274.88H199.49M213.73 2230.34V2268.17M210.39 2230.34H217.07M210.39 2268.17H217.07M246.38 2352.68V2376.47M243.04 2352.68H249.71M243.04 2376.47H249.71M263.96 2359.39V2374.03M260.62 2359.39H267.29M260.62 2374.03H267.29M296.6 2367.32V2374.03M293.26 2367.32H299.94M293.26 2374.03H299.94M314.18 2368.85V2374.03M310.84 2368.85H317.52M310.84 2374.03H317.52M346.83 2376.78V2378M343.49 2376.78H350.17M343.49 2378H350.17M364.41 2377.39V2378M361.07 2377.39H367.75M361.07 2378H367.75M397.06 2372.51V2375.86M393.72 2372.51H400.4M393.72 2375.86H400.4M414.64 2370.98V2374.64M411.3 2370.98H417.98M411.3 2374.64H417.98M447.29 2189.76V2283.12M443.95 2189.76H450.63M443.95 2283.12H450.63M464.87 2277.93V2320.64M461.53 2277.93H468.21M461.53 2320.64H468.21M497.52 2338.34V2353.59M494.18 2338.34H500.86M494.18 2353.59H500.86M515.1 2298.68V2327.66M511.76 2298.68H518.44M511.76 2327.66H518.44M547.75 2323.39V2361.83M544.41 2323.39H551.09M544.41 2361.83H551.09M565.33 2326.75V2358.17M561.99 2326.75H568.67M561.99 2358.17H568.67M597.97 2353.59V2363.36M594.63 2353.59H601.31M594.63 2363.36H601.31M615.55 2358.78V2368.85M612.21 2358.78H618.89M612.21 2368.85H618.89M648.2 2342.92V2363.97M644.86 2342.92H651.54M644.86 2363.97H651.54M665.78 2370.68V2374.64M662.44 2370.68H669.12M662.44 2374.64H669.12M698.43 2374.34V2377.69M695.09 2374.34H701.77M695.09 2377.69H701.77M716.01 2373.12V2377.08M712.67 2373.12H719.35M712.67 2377.08H719.35M748.66 2303.86V2339.86M745.32 2303.86H752M745.32 2339.86H752M766.24 2321.56V2349.02M762.9 2321.56H769.58M762.9 2349.02H769.58M798.89 2271.53V2330.71M795.55 2271.53H802.23M795.55 2330.71H802.23M816.47 2175.12V2246.2M813.13 2175.12H819.81M813.13 2246.2H819.81M849.12 2252.92V2313.63M845.78 2252.92H852.46M845.78 2313.63H852.46M866.7 2227.59V2291.66M863.36 2227.59H870.04M863.36 2291.66H870.04M899.34 2331.32V2377.69M896.01 2331.32H902.68M896.01 2377.69H902.68M916.92 2336.81V2378.61M913.59 2336.81H920.26M913.59 2378.61H920.26M949.57 2294.71V2318.81M946.23 2294.71H952.91M946.23 2318.81H952.91M967.15 2333.46V2344.14M963.81 2333.46H970.49M963.81 2344.14H970.49" stroke="#000" stroke-width="2" fill="none"/>
<g font-size="16.4" stroke="#000" stroke-width="0.3"><text transform="translate(195.25 2199.11) rotate(-90)" dy="0.355em">627</text><text transform="translate(212.83 2221.99) rotate(-90)" dy="0.355em">781</text><text transform="translate(245.48 2344.03) rotate(-90)" dy="0.355em">34</text><text transform="translate(263.06 2351.65) rotate(-90)" dy="0.355em">52</text><text transform="translate(295.7 2358.67) rotate(-90)" dy="0.355em">123</text><text transform="translate(313.28 2360.81) rotate(-90)" dy="0.355em">79</text><text transform="translate(345.93 2368.43) rotate(-90)" dy="0.355em">7</text><text transform="translate(363.51 2371.48) rotate(-90)" dy="0.355em">0</text><text transform="translate(396.16 2363.86) rotate(-90)" dy="0.355em">56</text><text transform="translate(413.74 2362.94) rotate(-90)" dy="0.355em">61</text><text transform="translate(446.39 2318.09) rotate(-90)" dy="0.355em">687</text><text transform="translate(463.97 2262.26) rotate(-90)" dy="0.355em">213</text><text transform="translate(496.62 2330.3) rotate(-90)" dy="0.355em">161</text><text transform="translate(514.2 2290.64) rotate(-90)" dy="0.355em">306</text><text transform="translate(546.85 2315.04) rotate(-90)" dy="0.355em">139</text><text transform="translate(564.43 2316.57) rotate(-90)" dy="0.355em">178</text><text transform="translate(597.07 2344.94) rotate(-90)" dy="0.355em">192</text><text transform="translate(614.65 2348.6) rotate(-90)" dy="0.355em">183</text><text transform="translate(647.3 2334.87) rotate(-90)" dy="0.355em">343</text><text transform="translate(664.88 2362.94) rotate(-90)" dy="0.355em">63</text><text transform="translate(697.53 2366.91) rotate(-90)" dy="0.355em">33</text><text transform="translate(715.11 2365.38) rotate(-90)" dy="0.355em">28</text><text transform="translate(747.76 2296.13) rotate(-90)" dy="0.355em">391</text><text transform="translate(765.34 2313.52) rotate(-90)" dy="0.355em">375</text><text transform="translate(797.99 2263.79) rotate(-90)" dy="0.355em">563</text><text transform="translate(815.57 2280.87) rotate(-90)" dy="0.355em">839</text><text transform="translate(848.22 2245.48) rotate(-90)" dy="0.355em">593</text><text transform="translate(865.8 2219.55) rotate(-90)" dy="0.355em">1314</text><text transform="translate(898.44 2324.19) rotate(-90)" dy="0.355em">414</text><text transform="translate(916.02 2329.38) rotate(-90)" dy="0.355em">283</text><text transform="translate(948.67 2286.67) rotate(-90)" dy="0.355em">596</text><text transform="translate(966.25 2325.72) rotate(-90)" dy="0.355em">312</text></g>
<g font-size="16" font-weight="bold" text-anchor="middle"><text x="464.87" y="2281.73" fill="#E8101A" stroke="#E8101A" stroke-width="0.2">*</text><text x="816.47" y="2178.92" fill="#1010D8" stroke="#1010D8" stroke-width="0.2">*</text></g>
<rect x="174.8" y="2162.6" width="813.7" height="226.1" fill="none" stroke="#333333" stroke-width="2"/>
<path d="M171.2 2378H174.8M171.2 2303.1H174.8M171.2 2228.2H174.8M204.94 2388.7V2392.3M255.17 2388.7V2392.3M305.39 2388.7V2392.3M355.62 2388.7V2392.3M405.85 2388.7V2392.3M456.08 2388.7V2392.3M506.31 2388.7V2392.3M556.54 2388.7V2392.3M606.76 2388.7V2392.3M656.99 2388.7V2392.3M707.22 2388.7V2392.3M757.45 2388.7V2392.3M807.68 2388.7V2392.3M857.91 2388.7V2392.3M908.13 2388.7V2392.3M958.36 2388.7V2392.3" stroke="#333333" stroke-width="2" fill="none"/>
<g font-size="20" text-anchor="end" stroke="#000" stroke-width="0.3"><text transform="translate(167.1 2383.6) scale(1 1.08)">0</text><text transform="translate(167.1 2308.7) scale(1 1.08)">10</text><text transform="translate(167.1 2233.8) scale(1 1.08)">20</text></g>
<text transform="translate(130.9 2275.65) rotate(-90)" text-anchor="middle" font-size="20" stroke="#000" stroke-width="0.3">Percent of sample</text>
<g font-size="20" text-anchor="end" stroke="#000" stroke-width="0.3"><text transform="translate(188.14 2393.7) rotate(-55)"><tspan x="0" y="14.5">Arterial</tspan><tspan x="0" y="38">endothelium</tspan></text><text transform="translate(238.37 2393.7) rotate(-55)"><tspan x="0" y="14.5">Collagen−hi</tspan><tspan x="0" y="38">tissue fibroblasts</tspan></text><text transform="translate(288.59 2393.7) rotate(-55)"><tspan x="0" y="14.5">Contractile</tspan><tspan x="0" y="38">pericytes</tspan></text><text transform="translate(338.82 2393.7) rotate(-55)"><tspan x="0" y="14.5">Cycling</tspan><tspan x="0" y="38">endothelium</tspan></text><text transform="translate(401.25 2393.7) rotate(-55)"><tspan x="0" y="14.5">Enteric glia</tspan></text><text transform="translate(439.28 2393.7) rotate(-55)"><tspan x="0" y="14.5">Inflammatory</tspan><tspan x="0" y="38">fibroblasts</tspan></text><text transform="translate(489.51 2393.7) rotate(-55)"><tspan x="0" y="14.5">Lymphatic</tspan><tspan x="0" y="38">endothelium</tspan></text><text transform="translate(539.74 2393.7) rotate(-55)"><tspan x="0" y="14.5">Mito−hi</tspan><tspan x="0" y="38">endothelium</tspan></text><text transform="translate(602.16 2393.7) rotate(-55)"><tspan x="0" y="14.5">Myofibroblasts</tspan></text><text transform="translate(652.39 2393.7) rotate(-55)"><tspan x="0" y="14.5">Pericytes</tspan></text><text transform="translate(690.42 2393.7) rotate(-55)"><tspan x="0" y="14.5">SIP syncytium</tspan><tspan x="0" y="38">fibroblasts</tspan></text><text transform="translate(752.85 2393.7) rotate(-55)"><tspan x="0" y="14.5">Telocyte</tspan></text><text transform="translate(790.88 2393.7) rotate(-55)"><tspan x="0" y="14.5">Tissue</tspan><tspan x="0" y="38">fibroblasts</tspan></text><text transform="translate(853.31 2393.7) rotate(-55)"><tspan x="0" y="14.5">Trophocyte</tspan></text><text transform="translate(891.33 2393.7) rotate(-55)"><tspan x="0" y="14.5">Trophocyte−</tspan><tspan x="0" y="38">TGFBI−hi</tspan></text><text transform="translate(941.56 2393.7) rotate(-55)"><tspan x="0" y="14.5">Venous</tspan><tspan x="0" y="38">endothelium</tspan></text></g>
<text x="1124.3" y="2156.2" font-size="20" stroke="#000" stroke-width="0.3">Epithelial cells</text>
<g><rect x="1141.68" y="2306.92" width="24.47" height="71.08" fill="#D86088"/><rect x="1166.15" y="2349.32" width="24.47" height="28.68" fill="#6389DA"/><rect x="1211.6" y="2258.41" width="24.47" height="119.59" fill="#D86088"/><rect x="1236.07" y="2322.78" width="24.47" height="55.22" fill="#6389DA"/><rect x="1281.52" y="2333.76" width="24.47" height="44.24" fill="#D86088"/><rect x="1305.99" y="2214.17" width="24.47" height="163.83" fill="#6389DA"/><rect x="1351.43" y="2351.15" width="24.47" height="26.85" fill="#D86088"/><rect x="1375.9" y="2339.25" width="24.47" height="38.75" fill="#6389DA"/><rect x="1421.35" y="2302.34" width="24.47" height="75.66" fill="#D86088"/><rect x="1445.82" y="2321.56" width="24.47" height="56.44" fill="#6389DA"/><rect x="1491.27" y="2377.39" width="24.47" height="0.61" fill="#D86088"/><rect x="1561.19" y="2377.39" width="24.47" height="0.61" fill="#D86088"/><rect x="1585.66" y="2377.39" width="24.47" height="0.61" fill="#6389DA"/><rect x="1631.11" y="2337.94" width="24.47" height="40.06" fill="#D86088"/><rect x="1655.58" y="2348.9" width="24.47" height="29.1" fill="#6389DA"/><rect x="1770.94" y="2377.32" width="24.47" height="0.68" fill="#D86088"/><rect x="1795.41" y="2376.29" width="24.47" height="1.71" fill="#6389DA"/><rect x="1840.86" y="2358.48" width="24.47" height="19.52" fill="#D86088"/><rect x="1865.33" y="2355.75" width="24.47" height="22.25" fill="#6389DA"/><rect x="1910.78" y="2377.32" width="24.47" height="0.68" fill="#D86088"/><rect x="1935.25" y="2376.29" width="24.47" height="1.71" fill="#6389DA"/></g>
<path d="M1153.92 2271.22V2342.92M1149.35 2271.22H1158.49M1149.35 2342.92H1158.49M1178.39 2330.71V2368.24M1173.82 2330.71H1182.96M1173.82 2368.24H1182.96M1223.83 2227.59V2289.53M1219.26 2227.59H1228.4M1219.26 2289.53H1228.4M1248.3 2301.73V2343.53M1243.73 2301.73H1252.87M1243.73 2343.53H1252.87M1293.75 2310.58V2356.95M1289.18 2310.58H1298.32M1289.18 2356.95H1298.32M1318.22 2175.12V2253.22M1313.65 2175.12H1322.79M1313.65 2253.22H1322.79M1363.67 2337.42V2364.58M1359.1 2337.42H1368.24M1359.1 2364.58H1368.24M1388.14 2324.61V2353.59M1383.57 2324.61H1392.71M1383.57 2353.59H1392.71M1433.59 2289.83V2314.54M1429.02 2289.83H1438.16M1429.02 2314.54H1438.16M1458.06 2304.17V2338.95M1453.49 2304.17H1462.63M1453.49 2338.95H1462.63M1503.51 2375.86V2378M1498.94 2375.86H1508.08M1498.94 2378H1508.08M1527.98 2377.39V2378M1523.41 2377.39H1532.55M1523.41 2378H1532.55M1573.42 2376.47V2378M1568.85 2376.47H1577.99M1568.85 2378H1577.99M1597.89 2376.47V2378M1593.32 2376.47H1602.46M1593.32 2378H1602.46M1643.34 2329.04V2347.53M1638.77 2329.04H1647.91M1638.77 2347.53H1647.91M1667.81 2342.05V2355.75M1663.24 2342.05H1672.38M1663.24 2355.75H1672.38M1713.26 2377.32V2378M1708.69 2377.32H1717.83M1708.69 2378H1717.83M1737.73 2377.32V2378M1733.16 2377.32H1742.3M1733.16 2378H1742.3M1783.18 2376.97V2378M1778.61 2376.97H1787.75M1778.61 2378H1787.75M1807.65 2375.6V2376.97M1803.08 2375.6H1812.22M1803.08 2376.97H1812.22M1853.1 2353.35V2364.31M1848.53 2353.35H1857.67M1848.53 2364.31H1857.67M1877.57 2347.87V2364.31M1873 2347.87H1882.14M1873 2364.31H1882.14M1923.01 2376.97V2378M1918.44 2376.97H1927.58M1918.44 2378H1927.58M1947.48 2375.26V2376.97M1942.91 2375.26H1952.05M1942.91 2376.97H1952.05" stroke="#000" stroke-width="2" fill="none"/>
<g font-size="16.4" stroke="#000" stroke-width="0.3"><text transform="translate(1153.02 2264.09) rotate(-90)" dy="0.355em">6821</text><text transform="translate(1177.49 2313.52) rotate(-90)" dy="0.355em">1816</text><text transform="translate(1222.93 2220.47) rotate(-90)" dy="0.355em">4646</text><text transform="translate(1247.4 2294.6) rotate(-90)" dy="0.355em">2391</text><text transform="translate(1292.85 2302.84) rotate(-90)" dy="0.355em">3726</text><text transform="translate(1317.32 2304.36) rotate(-90)" dy="0.355em">15425</text><text transform="translate(1362.77 2328.77) rotate(-90)" dy="0.355em">1968</text><text transform="translate(1387.24 2316.57) rotate(-90)" dy="0.355em">2253</text><text transform="translate(1432.69 2282.4) rotate(-90)" dy="0.355em">3757</text><text transform="translate(1457.16 2296.74) rotate(-90)" dy="0.355em">3975</text><text transform="translate(1502.61 2367.82) rotate(-90)" dy="0.355em">93</text><text transform="translate(1527.08 2369.96) rotate(-90)" dy="0.355em">0</text><text transform="translate(1572.52 2367.82) rotate(-90)" dy="0.355em">56</text><text transform="translate(1596.99 2367.82) rotate(-90)" dy="0.355em">81</text><text transform="translate(1642.44 2322.01) rotate(-90)" dy="0.355em">2175</text><text transform="translate(1666.91 2334.68) rotate(-90)" dy="0.355em">2151</text><text transform="translate(1712.36 2369.94) rotate(-90)" dy="0.355em">0</text><text transform="translate(1736.83 2369.94) rotate(-90)" dy="0.355em">0</text><text transform="translate(1782.28 2368.91) rotate(-90)" dy="0.355em">38</text><text transform="translate(1806.75 2368.23) rotate(-90)" dy="0.355em">206</text><text transform="translate(1852.2 2344.26) rotate(-90)" dy="0.355em">1126</text><text transform="translate(1876.67 2339.13) rotate(-90)" dy="0.355em">1607</text><text transform="translate(1922.11 2368.91) rotate(-90)" dy="0.355em">45</text><text transform="translate(1946.58 2364.81) rotate(-90)" dy="0.355em">122</text></g>
<g font-size="16" font-weight="bold" text-anchor="middle"><text x="1178.39" y="2334.51" fill="#E8101A" stroke="#E8101A" stroke-width="0.2">*</text><text x="1318.22" y="2178.92" fill="#1010D8" stroke="#1010D8" stroke-width="0.2">*</text></g>
<rect x="1124.2" y="2162.6" width="853" height="226.1" fill="none" stroke="#333333" stroke-width="2"/>
<path d="M1120.6 2378H1124.2M1120.6 2338H1124.2M1120.6 2298H1124.2M1120.6 2258H1124.2M1120.6 2218H1124.2M1120.6 2178H1124.2M1166.15 2388.7V2392.3M1236.07 2388.7V2392.3M1305.99 2388.7V2392.3M1375.9 2388.7V2392.3M1445.82 2388.7V2392.3M1515.74 2388.7V2392.3M1585.66 2388.7V2392.3M1655.58 2388.7V2392.3M1725.5 2388.7V2392.3M1795.41 2388.7V2392.3M1865.33 2388.7V2392.3M1935.25 2388.7V2392.3" stroke="#333333" stroke-width="2" fill="none"/>
<g font-size="20" text-anchor="end" stroke="#000" stroke-width="0.3"><text transform="translate(1116.5 2383.6) scale(1 1.08)">0</text><text transform="translate(1116.5 2343.6) scale(1 1.08)">10</text><text transform="translate(1116.5 2303.6) scale(1 1.08)">20</text><text transform="translate(1116.5 2263.6) scale(1 1.08)">30</text><text transform="translate(1116.5 2223.6) scale(1 1.08)">40</text><text transform="translate(1116.5 2183.6) scale(1 1.08)">50</text></g>
<g font-size="20" text-anchor="end" stroke="#000" stroke-width="0.3"><text transform="translate(1149.35 2393.7) rotate(-55)"><tspan x="0" y="14.5">Colonocytes−</tspan><tspan x="0" y="38">CEACAM−hi</tspan></text><text transform="translate(1219.27 2393.7) rotate(-55)"><tspan x="0" y="14.5">Colonocytes−</tspan><tspan x="0" y="38">LGALS4−hi</tspan></text><text transform="translate(1289.19 2393.7) rotate(-55)"><tspan x="0" y="14.5">Enterocyte−</tspan><tspan x="0" y="38">ANPEP−hi</tspan></text><text transform="translate(1359.1 2393.7) rotate(-55)"><tspan x="0" y="14.5">Enterocyte−</tspan><tspan x="0" y="38">FABP−hi</tspan></text><text transform="translate(1429.02 2393.7) rotate(-55)"><tspan x="0" y="14.5">Enterocyte−</tspan><tspan x="0" y="38">mito−hi</tspan></text><text transform="translate(1498.94 2393.7) rotate(-55)"><tspan x="0" y="14.5">Enterocytes−</tspan><tspan x="0" y="38">COX−hi</tspan></text><text transform="translate(1568.86 2393.7) rotate(-55)"><tspan x="0" y="14.5">Enteroendocrine</tspan><tspan x="0" y="38">cells</tspan></text><text transform="translate(1650.98 2393.7) rotate(-55)"><tspan x="0" y="14.5">Goblet cells</tspan></text><text transform="translate(1708.7 2393.7) rotate(-55)"><tspan x="0" y="14.5">Goblet cells−</tspan><tspan x="0" y="38">DEF−hi</tspan></text><text transform="translate(1790.81 2393.7) rotate(-55)"><tspan x="0" y="14.5">Paneth cells</tspan></text><text transform="translate(1848.53 2393.7) rotate(-55)"><tspan x="0" y="14.5">Stem−like cells</tspan><tspan x="0" y="38">−OLFM4−hi</tspan></text><text transform="translate(1930.65 2393.7) rotate(-55)"><tspan x="0" y="14.5">Tuft cells</tspan></text></g>
<g stroke="#000" stroke-width="0.3"><rect x="2006.9" y="974.1" width="17.0" height="16.5" fill="#D86088"/><text transform="translate(2029.0 989.7) scale(1 1.07)" font-size="20">S</text><rect x="2006.9" y="991.9" width="17.0" height="16.5" fill="#6389DA"/><text transform="translate(2029.0 1007.5) scale(1 1.07)" font-size="20">NS</text><rect x="2006.9" y="1009.7" width="17.0" height="16.5" fill="#97DA62"/><text transform="translate(2029.0 1025.3) scale(1 1.07)" font-size="20">C</text><rect x="1989.5" y="2250.1" width="24.9" height="24.8" fill="#D86088"/><rect x="1989.5" y="2275.8" width="24.9" height="24.8" fill="#6389DA"/><text transform="translate(2022.8 2267.6) scale(1 1.07)" font-size="20">S</text><text transform="translate(2023.7 2293.8) scale(1 1.07)" font-size="20">NS</text></g></svg>
</body></html>
